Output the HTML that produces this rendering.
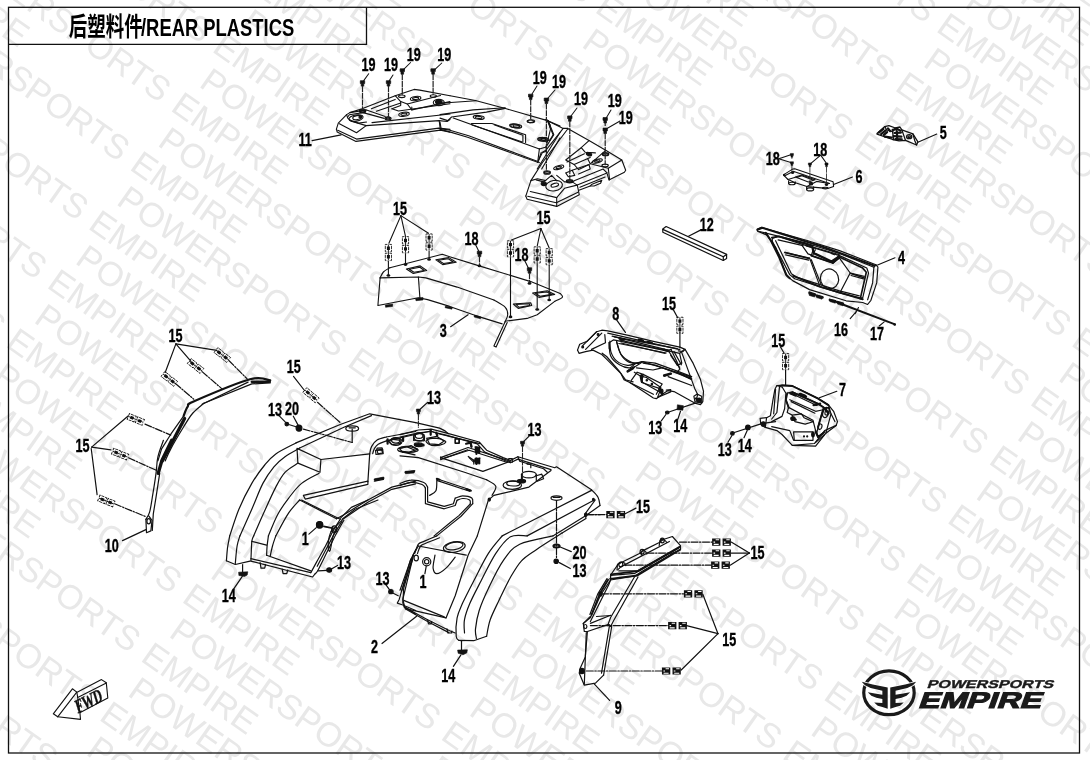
<!DOCTYPE html>
<html><head><meta charset="utf-8"><title>后塑料件/REAR PLASTICS</title>
<style>
html,body{margin:0;padding:0;background:#fff;}
body{width:1090px;height:760px;overflow:hidden;position:relative;font-family:"Liberation Sans","Noto Sans CJK SC",sans-serif;}
svg{position:absolute;left:0;top:0;display:block;filter:grayscale(1)}
.wm text{font-family:"Liberation Sans",sans-serif;font-size:34.3px;fill:#e8e8e8;}
.ln{fill:none;stroke:#111;stroke-linejoin:round;stroke-linecap:round}
.lb{font-family:"Liberation Sans",sans-serif;font-weight:bold;font-size:17.5px;fill:#000;stroke:#000;stroke-width:0.35px}
</style></head><body>
<svg width="1090" height="760" viewBox="0 0 1090 760">
<rect width="1090" height="760" fill="#fff"/>
<g class="wm">
<text transform="translate(1087.2,-170.3) rotate(35.0)">POWERSPORTS</text>
<text transform="translate(1046.0,-111.4) rotate(35.0)">POWERSPORTS</text>
<text transform="translate(1017.7,-87.2) rotate(35.0)">EMPIRE</text>
<text transform="translate(1004.7,-52.4) rotate(35.0)">POWERSPORTS</text>
<text transform="translate(745.8,-189.7) rotate(35.0)">POWERSPORTS</text>
<text transform="translate(976.4,-28.2) rotate(35.0)">EMPIRE</text>
<text transform="translate(963.4,6.6) rotate(35.0)">POWERSPORTS</text>
<text transform="translate(704.5,-130.7) rotate(35.0)">POWERSPORTS</text>
<text transform="translate(935.1,30.7) rotate(35.0)">EMPIRE</text>
<text transform="translate(676.3,-106.5) rotate(35.0)">EMPIRE</text>
<text transform="translate(922.1,65.6) rotate(35.0)">POWERSPORTS</text>
<text transform="translate(663.2,-71.7) rotate(35.0)">POWERSPORTS</text>
<text transform="translate(893.8,89.7) rotate(35.0)">EMPIRE</text>
<text transform="translate(635.0,-47.6) rotate(35.0)">EMPIRE</text>
<text transform="translate(880.8,124.5) rotate(35.0)">POWERSPORTS</text>
<text transform="translate(1111.3,286.0) rotate(35.0)">EMPIRE</text>
<text transform="translate(621.9,-12.7) rotate(35.0)">POWERSPORTS</text>
<text transform="translate(852.5,148.7) rotate(35.0)">EMPIRE</text>
<text transform="translate(1098.3,320.8) rotate(35.0)">POWERSPORTS</text>
<text transform="translate(363.1,-150.0) rotate(35.0)">POWERSPORTS</text>
<text transform="translate(593.7,11.4) rotate(35.0)">EMPIRE</text>
<text transform="translate(839.5,183.5) rotate(35.0)">POWERSPORTS</text>
<text transform="translate(1070.0,345.0) rotate(35.0)">EMPIRE</text>
<text transform="translate(580.6,46.2) rotate(35.0)">POWERSPORTS</text>
<text transform="translate(811.2,207.7) rotate(35.0)">EMPIRE</text>
<text transform="translate(1057.0,379.8) rotate(35.0)">POWERSPORTS</text>
<text transform="translate(321.8,-91.0) rotate(35.0)">POWERSPORTS</text>
<text transform="translate(552.4,70.4) rotate(35.0)">EMPIRE</text>
<text transform="translate(798.2,242.5) rotate(35.0)">POWERSPORTS</text>
<text transform="translate(1028.7,403.9) rotate(35.0)">EMPIRE</text>
<text transform="translate(293.5,-66.9) rotate(35.0)">EMPIRE</text>
<text transform="translate(539.3,105.2) rotate(35.0)">POWERSPORTS</text>
<text transform="translate(769.9,266.7) rotate(35.0)">EMPIRE</text>
<text transform="translate(1015.7,438.8) rotate(35.0)">POWERSPORTS</text>
<text transform="translate(280.5,-32.1) rotate(35.0)">POWERSPORTS</text>
<text transform="translate(511.1,129.4) rotate(35.0)">EMPIRE</text>
<text transform="translate(756.9,301.5) rotate(35.0)">POWERSPORTS</text>
<text transform="translate(987.4,462.9) rotate(35.0)">EMPIRE</text>
<text transform="translate(21.7,-169.4) rotate(35.0)">POWERSPORTS</text>
<text transform="translate(252.2,-7.9) rotate(35.0)">EMPIRE</text>
<text transform="translate(498.0,164.2) rotate(35.0)">POWERSPORTS</text>
<text transform="translate(728.6,325.6) rotate(35.0)">EMPIRE</text>
<text transform="translate(974.4,497.7) rotate(35.0)">POWERSPORTS</text>
<text transform="translate(239.2,26.9) rotate(35.0)">POWERSPORTS</text>
<text transform="translate(469.8,188.4) rotate(35.0)">EMPIRE</text>
<text transform="translate(715.6,360.5) rotate(35.0)">POWERSPORTS</text>
<text transform="translate(946.1,521.9) rotate(35.0)">EMPIRE</text>
<text transform="translate(-19.6,-110.4) rotate(35.0)">POWERSPORTS</text>
<text transform="translate(210.9,51.1) rotate(35.0)">EMPIRE</text>
<text transform="translate(456.7,223.2) rotate(35.0)">POWERSPORTS</text>
<text transform="translate(687.3,384.6) rotate(35.0)">EMPIRE</text>
<text transform="translate(933.1,556.7) rotate(35.0)">POWERSPORTS</text>
<text transform="translate(-47.9,-86.2) rotate(35.0)">EMPIRE</text>
<text transform="translate(197.9,85.9) rotate(35.0)">POWERSPORTS</text>
<text transform="translate(428.5,247.3) rotate(35.0)">EMPIRE</text>
<text transform="translate(674.3,419.4) rotate(35.0)">POWERSPORTS</text>
<text transform="translate(904.8,580.9) rotate(35.0)">EMPIRE</text>
<text transform="translate(-60.9,-51.4) rotate(35.0)">POWERSPORTS</text>
<text transform="translate(169.6,110.0) rotate(35.0)">EMPIRE</text>
<text transform="translate(415.4,282.2) rotate(35.0)">POWERSPORTS</text>
<text transform="translate(646.0,443.6) rotate(35.0)">EMPIRE</text>
<text transform="translate(891.8,615.7) rotate(35.0)">POWERSPORTS</text>
<text transform="translate(1122.4,777.1) rotate(35.0)">EMPIRE</text>
<text transform="translate(-89.2,-27.2) rotate(35.0)">EMPIRE</text>
<text transform="translate(156.6,144.9) rotate(35.0)">POWERSPORTS</text>
<text transform="translate(387.2,306.3) rotate(35.0)">EMPIRE</text>
<text transform="translate(633.0,478.4) rotate(35.0)">POWERSPORTS</text>
<text transform="translate(863.5,639.9) rotate(35.0)">EMPIRE</text>
<text transform="translate(-102.2,7.6) rotate(35.0)">POWERSPORTS</text>
<text transform="translate(128.4,169.0) rotate(35.0)">EMPIRE</text>
<text transform="translate(374.1,341.1) rotate(35.0)">POWERSPORTS</text>
<text transform="translate(604.7,502.6) rotate(35.0)">EMPIRE</text>
<text transform="translate(850.5,674.7) rotate(35.0)">POWERSPORTS</text>
<text transform="translate(-130.5,31.7) rotate(35.0)">EMPIRE</text>
<text transform="translate(115.3,203.8) rotate(35.0)">POWERSPORTS</text>
<text transform="translate(345.9,365.3) rotate(35.0)">EMPIRE</text>
<text transform="translate(591.7,537.4) rotate(35.0)">POWERSPORTS</text>
<text transform="translate(822.2,698.8) rotate(35.0)">EMPIRE</text>
<text transform="translate(-143.5,66.6) rotate(35.0)">POWERSPORTS</text>
<text transform="translate(87.1,228.0) rotate(35.0)">EMPIRE</text>
<text transform="translate(332.9,400.1) rotate(35.0)">POWERSPORTS</text>
<text transform="translate(563.4,561.6) rotate(35.0)">EMPIRE</text>
<text transform="translate(809.2,733.7) rotate(35.0)">POWERSPORTS</text>
<text transform="translate(74.0,262.8) rotate(35.0)">POWERSPORTS</text>
<text transform="translate(304.6,424.3) rotate(35.0)">EMPIRE</text>
<text transform="translate(550.4,596.4) rotate(35.0)">POWERSPORTS</text>
<text transform="translate(780.9,757.8) rotate(35.0)">EMPIRE</text>
<text transform="translate(-184.8,125.5) rotate(35.0)">POWERSPORTS</text>
<text transform="translate(45.8,287.0) rotate(35.0)">EMPIRE</text>
<text transform="translate(291.6,459.1) rotate(35.0)">POWERSPORTS</text>
<text transform="translate(522.1,620.5) rotate(35.0)">EMPIRE</text>
<text transform="translate(767.9,792.6) rotate(35.0)">POWERSPORTS</text>
<text transform="translate(32.7,321.8) rotate(35.0)">POWERSPORTS</text>
<text transform="translate(263.3,483.2) rotate(35.0)">EMPIRE</text>
<text transform="translate(509.1,655.4) rotate(35.0)">POWERSPORTS</text>
<text transform="translate(-226.1,184.5) rotate(35.0)">POWERSPORTS</text>
<text transform="translate(4.5,346.0) rotate(35.0)">EMPIRE</text>
<text transform="translate(250.3,518.1) rotate(35.0)">POWERSPORTS</text>
<text transform="translate(480.8,679.5) rotate(35.0)">EMPIRE</text>
<text transform="translate(-8.6,380.8) rotate(35.0)">POWERSPORTS</text>
<text transform="translate(222.0,542.2) rotate(35.0)">EMPIRE</text>
<text transform="translate(467.8,714.3) rotate(35.0)">POWERSPORTS</text>
<text transform="translate(-36.8,404.9) rotate(35.0)">EMPIRE</text>
<text transform="translate(209.0,577.1) rotate(35.0)">POWERSPORTS</text>
<text transform="translate(439.5,738.5) rotate(35.0)">EMPIRE</text>
<text transform="translate(-49.9,439.8) rotate(35.0)">POWERSPORTS</text>
<text transform="translate(180.7,601.2) rotate(35.0)">EMPIRE</text>
<text transform="translate(426.5,773.3) rotate(35.0)">POWERSPORTS</text>
<text transform="translate(-78.1,463.9) rotate(35.0)">EMPIRE</text>
<text transform="translate(167.7,636.0) rotate(35.0)">POWERSPORTS</text>
<text transform="translate(398.2,797.5) rotate(35.0)">EMPIRE</text>
<text transform="translate(-91.2,498.7) rotate(35.0)">POWERSPORTS</text>
<text transform="translate(139.4,660.2) rotate(35.0)">EMPIRE</text>
<text transform="translate(-119.4,522.9) rotate(35.0)">EMPIRE</text>
<text transform="translate(126.4,695.0) rotate(35.0)">POWERSPORTS</text>
<text transform="translate(-132.5,557.7) rotate(35.0)">POWERSPORTS</text>
<text transform="translate(98.1,719.2) rotate(35.0)">EMPIRE</text>
<text transform="translate(85.1,754.0) rotate(35.0)">POWERSPORTS</text>
<text transform="translate(-173.8,616.7) rotate(35.0)">POWERSPORTS</text>
<text transform="translate(56.8,778.1) rotate(35.0)">EMPIRE</text>
<text transform="translate(-215.1,675.7) rotate(35.0)">POWERSPORTS</text>
<text transform="translate(-256.4,734.7) rotate(35.0)">POWERSPORTS</text>
</g>
<g id="frame" fill="none" stroke="#111" stroke-width="1.3">
<rect x="8.5" y="7.3" width="1071" height="745.7"/>
<path d="M8.5 44.3H366.5V7.3"/>
</g>
<g id="title" fill="#000">
<text transform="translate(68.8,36.4) scale(0.84,1.2)" font-family='"Liberation Sans","Noto Sans CJK SC",sans-serif' font-size="22" font-weight="bold">后塑料件</text>
<text transform="translate(141,36) scale(0.8,1)" font-family='"Liberation Sans",sans-serif' font-size="23" font-weight="bold">/REAR PLASTICS</text>
</g>
<g id="01a">
<path class="ln" stroke-width="1.1960000000000002" d="M229.7 535.9C231.3 531.4 235.3 517.9 238.9 509.2C242.6 500.4 247.5 490.8 251.8 483.4C256.1 476.0 260.7 469.9 264.7 465.0C268.7 460.1 270.6 457.6 275.8 453.9C281.0 450.2 292.7 444.7 296.0 442.9"/>
<path class="ln" stroke-width="1.1960000000000002" d="M296.0 442.9L340.2 424.5L369.7 413.8L415.7 422.6"/>
<path class="ln" stroke-width="1.1960000000000002" d="M239.9 535.9C241.9 531.4 248.0 517.9 251.8 509.2C255.7 500.4 259.2 490.5 262.9 483.4C266.6 476.3 270.2 471.3 273.9 466.8C277.6 462.4 280.7 459.8 285.0 456.7C289.3 453.6 297.3 449.5 299.7 448.0"/>
<path class="ln" stroke-width="1.1960000000000002" d="M299.7 448.0L343.9 427.2L371.5 415.6"/>
<path class="ln" stroke-width="1.1960000000000002" d="M253.7 535.9C255.2 532.4 259.2 522.8 262.9 514.7C266.6 506.6 272.1 494.1 275.8 487.1C279.5 480.0 281.3 476.3 285.0 472.3C288.7 468.4 295.7 464.7 297.9 463.1"/>
<path class="ln" stroke-width="1.1960000000000002" d="M297.0 448.4L320.9 459.5L320.0 472.3L297.9 463.1Z"/>
<path class="ln" stroke-width="1.1960000000000002" d="M320.9 459.5L369.7 453.9"/>
<path class="ln" stroke-width="1.1960000000000002" d="M319.1 473.3C316.1 475.0 306.6 479.3 301.6 483.4C296.5 487.5 292.7 492.9 288.7 498.1C284.7 503.3 281.0 508.4 277.6 514.7C274.2 521.0 269.9 532.4 268.4 535.9"/>
<path class="ln" stroke-width="1.1960000000000002" d="M303.4 495.4L367.9 481.2L367.9 484.3L305.2 499.1Z"/>
<path class="ln" stroke-width="1.1960000000000002" d="M369.7 453.9L367.9 481.6"/>
<path class="ln" stroke-width="1.1960000000000002" d="M369.7 453.9C370.0 452.7 370.3 448.9 371.5 446.6C372.8 444.3 374.6 441.7 377.1 440.1C379.5 438.5 384.7 437.5 386.3 437.0"/>
<path class="ln" stroke-width="1.1960000000000002" d="M386.3 437.0L415.7 431.5"/>
<path class="ln" stroke-width="1.1960000000000002" d="M299.7 500.0L336.5 518.8"/>
<path class="ln" stroke-width="1.1960000000000002" d="M299.7 500.0C297.9 502.1 292.7 506.9 288.7 512.9C284.7 518.8 277.9 532.0 275.8 535.9"/>
<path class="ln" stroke-width="1.1960000000000002" d="M336.5 518.8L343.9 514.7L367.9 500.0L391.8 487.1L415.7 481.2"/>
<path class="ln" stroke-width="1.1960000000000002" d="M331.0 531.3L343.9 518.4L367.9 502.2L391.8 489.3L415.7 483.8"/>
<ellipse cx="352.2" cy="428.5" rx="6.4" ry="2.6" transform="rotate(0 352.2 428.5)" fill="none" stroke="#111" stroke-width="1.1960000000000002"/>
<path class="ln" stroke-width="1.1960000000000002" d="M349.1 427.8L355.3 427.8"/>
<path class="ln" stroke-width="1.1960000000000002" d="M374.3 479.7L383.5 477.9"/>
<path class="ln" stroke-width="1.1960000000000002" d="M374.3 481.2L383.5 479.3"/>
<path class="ln" stroke-width="1.1960000000000002" d="M405.6 472.3L414.8 470.9"/>
<path class="ln" stroke-width="1.1960000000000002" stroke-dasharray="7 1.5 1.5 1.5" stroke-linecap="butt" d="M303.4 429.1L352.2 442.5"/>
<path class="ln" stroke-width="1.1960000000000002" d="M352.2 442.5L352.2 429.1"/>
<ellipse cx="286.8" cy="424.1" rx="1.8" ry="1.7" transform="rotate(0 286.8 424.1)" fill="#111" stroke="#111" stroke-width="1.1960000000000002"/>
<path class="ln" stroke-width="1.1960000000000002" d="M288.7 424.5L296.0 426.7"/>
<ellipse cx="299.0" cy="428.1" rx="2.9" ry="3.1" transform="rotate(0 299.0 428.1)" fill="#111" stroke="#111" stroke-width="1.1960000000000002"/>
<path class="ln" stroke-width="1.1960000000000002" d="M279.5 416.2L285.9 422.6"/>
<path class="ln" stroke-width="1.1960000000000002" d="M293.3 416.2L298.2 425.4"/>
<text class="lb" text-anchor="middle" transform="translate(274.9,416.0) scale(0.72,1)">13</text>
<text class="lb" text-anchor="middle" transform="translate(292.0,415.1) scale(0.72,1)">20</text>
<ellipse cx="319.6" cy="524.8" rx="3.1" ry="3.1" transform="rotate(0 319.6 524.8)" fill="#111" stroke="#111" stroke-width="1.1960000000000002"/>
<path class="ln" stroke-width="1.1960000000000002" d="M323.7 526.1L332.9 528.0"/>
<g transform="translate(311.0,395.2) rotate(-50.0) scale(0.88,0.95)"><path d="M-1.2 -8.5H-3.5V-0.8H-1.2M1.2 -8.5H3.5V-0.8H1.2M-1.2 0.8H-3.5V8.5H-1.2M1.2 0.8H3.5V8.5H1.2" fill="none" stroke="#111" stroke-width="0.95" stroke-dasharray="3.2 0.8"/><path d="M-1.7 -6.2h3.4v3.6h-3.4zM-1.7 2.6h3.4v3.6h-3.4z" fill="#111"/><path d="M0 -8.5V8.5" stroke="#111" stroke-width="1"/></g>
<path class="ln" stroke-width="1.1960000000000002" stroke-dasharray="7 1.5 1.5 1.5" stroke-linecap="butt" d="M317.5 402.3L340.2 422.6"/>
<path class="ln" stroke-width="1.1960000000000002" d="M293.5 376.4L304.5 390.5"/>
<text class="lb" text-anchor="middle" transform="translate(293.8,372.5) scale(0.72,1)">15</text>
<path class="ln" stroke-width="1.1960000000000002" d="M377.1 450.2L381.7 449.3L382.6 453.0L378.0 453.9L377.1 450.2"/>
<path class="ln" stroke-width="1.1960000000000002" d="M388.1 441.0L391.8 439.2L399.2 440.1L401.0 443.3L391.8 444.7L388.1 441.0"/>
<path class="ln" stroke-width="1.1960000000000002" d="M399.2 448.4L406.5 446.6L415.0 450.2"/>
<path class="ln" stroke-width="1.1960000000000002" d="M399.2 448.4L402.8 452.1L415.0 454.9"/>
</g>
<g id="01b">
<path class="ln" stroke-width="1.1960000000000002" d="M415.7 422.6L439.6 428.1L445.1 430.9L448.3 433.7"/>
<path class="ln" stroke-width="1.1960000000000002" d="M400.0 434.6L418.4 430.0L431.3 429.1L446.0 432.8L479.2 442.0L486.6 450.2L503.1 457.6L510.5 460.4L517.9 456.7L554.7 467.7L556.5 466.8L591.5 489.8"/>
<path class="ln" stroke-width="1.1960000000000002" d="M591.5 489.8C592.6 491.1 596.6 494.6 598.0 497.2C599.4 499.8 599.7 504.1 600.0 505.5"/>
<path class="ln" stroke-width="1.1960000000000002" d="M400.0 437.0L418.4 432.8L431.3 431.5L446.0 435.1L477.3 443.8L484.7 452.1L503.1 459.8L510.5 462.8L517.9 459.1L551.0 469.6"/>
<path class="ln" stroke-width="1.1960000000000002" d="M591.5 490.4L502.2 535.9"/>
<path class="ln" stroke-width="1.1960000000000002" d="M594.3 500.0L527.1 535.9"/>
<path class="ln" stroke-width="1.1960000000000002" d="M586.0 515.6L552.9 535.9"/>
<path class="ln" stroke-width="1.1960000000000002" d="M600.0 505.5L586.0 515.6"/>
<path class="ln" stroke-width="1.1960000000000002" d="M551.0 470.5L528.9 487.1L493.9 495.4L488.4 500.0L477.3 535.9"/>
<path class="ln" stroke-width="1.1960000000000002" d="M400.0 455.8L418.4 457.6L464.5 472.3L486.6 479.7"/>
<path class="ln" stroke-width="1.1960000000000002" d="M486.6 479.7C488.1 480.8 494.8 483.6 495.8 486.2C496.7 488.8 492.7 493.8 492.1 495.4"/>
<path class="ln" stroke-width="1.1960000000000002" d="M440.5 457.6L468.1 447.5L510.5 461.3L482.9 471.4Z"/>
<path class="ln" stroke-width="1.1960000000000002" d="M443.3 458.5L469.1 450.2L506.8 462.2"/>
<path class="ln" stroke-width="1.1960000000000002" d="M426.7 438.3L436.8 436.4L444.2 441.0L438.7 444.7L429.5 443.8Z"/>
<path class="ln" stroke-width="1.1960000000000002" d="M400.0 448.4L411.0 445.6L417.5 449.3L409.2 452.1L400.0 451.2"/>
<ellipse cx="512.3" cy="485.2" rx="9.2" ry="4.1" transform="rotate(0 512.3 485.2)" fill="none" stroke="#111" stroke-width="1.1960000000000002"/>
<ellipse cx="513.3" cy="483.4" rx="6.6" ry="2.6" transform="rotate(0 513.3 483.4)" fill="none" stroke="#111" stroke-width="1.1960000000000002"/>
<ellipse cx="528.9" cy="474.6" rx="7.4" ry="3.3" transform="rotate(0 528.9 474.6)" fill="none" stroke="#111" stroke-width="1.1960000000000002"/>
<path class="ln" stroke-width="1.1960000000000002" d="M521.5 474.6L521.5 481.6"/>
<path class="ln" stroke-width="1.1960000000000002" d="M536.3 474.6L536.3 480.6"/>
<path class="ln" stroke-width="1.1960000000000002" d="M400.0 483.4C401.8 482.8 407.1 480.2 411.0 480.1C415.0 479.9 421.2 481.3 423.9 482.5C426.7 483.6 427.0 486.3 427.6 487.1"/>
<path class="ln" stroke-width="1.1960000000000002" d="M427.6 487.1L427.6 501.8L444.2 506.4L453.4 503.7L455.2 498.1"/>
<path class="ln" stroke-width="1.1960000000000002" d="M455.2 498.1C456.5 497.8 459.9 495.9 462.6 495.9C465.4 495.9 470.1 496.8 471.8 498.1C473.5 499.4 472.6 502.7 472.7 503.7"/>
<path class="ln" stroke-width="1.1960000000000002" d="M472.7 503.7L460.8 516.5L451.6 523.9L436.8 535.9"/>
<path class="ln" stroke-width="1.1960000000000002" d="M400.0 485.6C401.8 485.1 407.4 482.5 411.0 482.3C414.7 482.1 419.7 483.6 422.1 484.5C424.5 485.5 424.9 487.4 425.4 488.0"/>
<path class="ln" stroke-width="1.1960000000000002" d="M425.4 488.0L425.4 503.7L444.2 508.8L455.2 505.5L457.1 500.3"/>
<path class="ln" stroke-width="1.1960000000000002" d="M457.1 500.3C458.0 500.0 460.5 498.6 462.6 498.5C464.7 498.4 468.3 499.1 469.6 500.0C470.9 500.9 470.2 503.3 470.3 504.0"/>
<path class="ln" stroke-width="1.1960000000000002" d="M470.3 504.0L458.9 515.6L449.7 523.0L434.1 535.9"/>
<path class="ln" stroke-width="1.1960000000000002" d="M436.8 478.8L470.0 489.8"/>
<path class="ln" stroke-width="1.1960000000000002" d="M437.4 480.6L469.6 491.3"/>
<path class="ln" stroke-width="1.1960000000000002" d="M436.8 479.7C436.7 481.6 437.1 488.2 435.9 490.8C434.7 493.4 430.5 494.6 429.5 495.4"/>
<path class="ln" stroke-width="2.0240000000000005" d="M405.5 472.3L413.8 471.4"/>
<path class="ln" stroke-width="2.0240000000000005" d="M436.8 478.8L439.6 479.7"/>
<path class="ln" stroke-width="2.0240000000000005" d="M466.3 489.3L470.9 490.8"/>
<path class="ln" stroke-width="2.0240000000000005" d="M476.4 447.5L476.4 453.9"/>
<path class="ln" stroke-width="2.0240000000000005" d="M476.4 458.5L476.4 464.1"/>
<path class="ln" stroke-width="1.1960000000000002" d="M413.8 434.6L413.8 440.1L423.9 441.0L423.9 434.6"/>
<path class="ln" stroke-width="1.1960000000000002" d="M455.2 439.2L458.9 439.2L458.9 443.3L455.2 443.3L455.2 439.2"/>
<path class="ln" stroke-width="1.1960000000000002" d="M467.2 443.3L470.9 443.3L470.9 446.6"/>
<path class="ln" stroke-width="1.1960000000000002" d="M508.7 458.5L512.3 458.5L512.3 462.2"/>
<path class="ln" stroke-width="1.1960000000000002" d="M527.1 464.1L530.8 464.1L530.8 467.7"/>
<path class="ln" stroke-width="1.1960000000000002" d="M469.1 457.6L473.7 462.2L476.4 458.5"/>
<path class="ln" stroke-width="1.1960000000000002" d="M517.9 456.7L519.7 461.3L543.6 468.7L547.3 472.3"/>
<path class="ln" stroke-width="1.1960000000000002" d="M535.4 476.0L541.8 474.2L543.6 478.8L537.2 481.2"/>
<path transform="translate(418.4,410.7) scale(0.9)" d="M-2.2 -1.8h4.4v2.8h-0.9v2.6h-2.6v-2.6h-0.9z" fill="#111" stroke="#111" stroke-width="0.7" stroke-linejoin="round"/>
<path d="M418.4 413.9V428.1" stroke="#222" stroke-width="1.08" stroke-dasharray="6 0.7" fill="none"/>
<path transform="translate(522.5,442.9) scale(0.9)" d="M-2.2 -1.8h4.4v2.8h-0.9v2.6h-2.6v-2.6h-0.9z" fill="#111" stroke="#111" stroke-width="0.7" stroke-linejoin="round"/>
<path d="M522.5 446.1V481.2" stroke="#222" stroke-width="1.08" stroke-dasharray="6 0.7" fill="none"/>
<ellipse cx="418.4" cy="444.7" rx="4.1" ry="1.8" transform="rotate(0 418.4 444.7)" fill="#111" stroke="#111" stroke-width="1.1960000000000002"/>
<ellipse cx="521.5" cy="481.2" rx="4.1" ry="1.8" transform="rotate(0 521.5 481.2)" fill="#111" stroke="#111" stroke-width="1.1960000000000002"/>
<ellipse cx="489.3" cy="499.6" rx="1.1" ry="1.5" transform="rotate(0 489.3 499.6)" fill="#111" stroke="#111" stroke-width="1.1960000000000002"/>
<ellipse cx="593.4" cy="499.6" rx="0.9" ry="1.3" transform="rotate(0 593.4 499.6)" fill="#111" stroke="#111" stroke-width="1.1960000000000002"/>
<ellipse cx="585.6" cy="515.1" rx="0.9" ry="1.3" transform="rotate(0 585.6 515.1)" fill="#111" stroke="#111" stroke-width="1.1960000000000002"/>
<path class="ln" stroke-width="1.1960000000000002" d="M427.6 402.4L420.6 408.8"/>
<path class="ln" stroke-width="1.1960000000000002" d="M528.9 436.4L523.8 441.4"/>
<text class="lb" text-anchor="middle" transform="translate(434.1,403.5) scale(0.72,1)">13</text>
<text class="lb" text-anchor="middle" transform="translate(534.4,436.3) scale(0.72,1)">13</text>
<ellipse cx="556.5" cy="498.1" rx="5.5" ry="2.2" transform="rotate(0 556.5 498.1)" fill="none" stroke="#111" stroke-width="1.1960000000000002"/>
<path class="ln" stroke-width="1.1960000000000002" d="M553.2 497.4L559.9 497.4"/>
<path class="ln" stroke-width="1.1960000000000002" stroke-dasharray="7 1.5 1.5 1.5" stroke-linecap="butt" d="M556.5 500.9L556.5 535.9"/>
<path class="ln" stroke-width="1.1960000000000002" stroke-dasharray="7 1.5 1.5 1.5" stroke-linecap="butt" d="M586.9 514.7L600.0 514.7"/>
</g>
<g id="01c">
<path class="ln" stroke-width="1.1960000000000002" d="M229.7 535.9C229.4 537.9 228.1 543.7 227.5 547.9C227.0 552.0 226.6 558.6 226.4 560.8"/>
<path class="ln" stroke-width="1.1960000000000002" d="M226.4 560.8L235.3 564.5L250.0 561.1"/>
<path class="ln" stroke-width="1.1960000000000002" d="M239.9 535.9C239.4 537.6 237.9 541.4 237.1 546.0C236.3 550.6 235.6 560.6 235.3 563.5"/>
<path class="ln" stroke-width="1.1960000000000002" d="M253.7 535.9C253.4 536.8 252.3 537.3 251.8 541.4C251.4 545.6 251.1 557.6 250.9 560.8"/>
<path class="ln" stroke-width="1.1960000000000002" d="M251.8 541.4L266.6 545.1"/>
<path class="ln" stroke-width="1.1960000000000002" d="M268.4 535.9C268.2 537.6 267.4 542.8 267.1 546.0C266.8 549.3 266.7 553.7 266.6 555.2"/>
<path class="ln" stroke-width="1.1960000000000002" d="M275.8 535.9C275.2 537.6 273.4 542.7 272.5 546.0C271.5 549.4 270.6 554.5 270.2 556.2"/>
<path class="ln" stroke-width="1.1960000000000002" d="M250.9 558.6L310.8 572.7"/>
<path class="ln" stroke-width="1.1960000000000002" d="M250.9 561.1L312.6 577.0L315.4 573.3"/>
<path class="ln" stroke-width="1.1960000000000002" d="M266.6 555.2L310.8 570.9"/>
<path class="ln" stroke-width="1.1960000000000002" d="M301.6 500.0L340.2 519.3"/>
<path class="ln" stroke-width="1.1960000000000002" d="M340.2 519.3C339.0 521.3 335.3 526.9 332.9 531.3C330.4 535.8 328.3 540.8 325.5 546.0C322.7 551.3 318.7 558.2 316.3 562.6C313.8 567.1 311.7 571.1 310.8 572.7"/>
<path class="ln" stroke-width="1.1960000000000002" d="M343.9 520.3C342.5 522.7 338.4 529.8 335.6 535.0C332.9 540.2 330.3 545.7 327.3 551.6C324.4 557.4 320.1 566.3 318.1 570.0C316.1 573.7 315.8 573.1 315.4 573.7"/>
<path class="ln" stroke-width="1.1960000000000002" d="M342.1 521.2C340.8 523.2 337.3 528.5 334.7 533.1C332.1 537.8 329.3 543.3 326.4 548.8C323.5 554.3 318.7 563.4 317.2 566.3"/>
<path class="ln" stroke-width="1.1960000000000002" d="M378.0 500.0L355.0 509.2L342.1 519.3"/>
<path class="ln" stroke-width="1.1960000000000002" d="M367.9 500.0L351.3 507.4L340.2 518.4"/>
<path class="ln" stroke-width="1.1960000000000002" d="M260.1 562.6L261.0 568.1L264.7 568.1L265.6 564.5"/>
<path class="ln" stroke-width="1.1960000000000002" d="M282.2 569.1L283.1 573.7L286.8 573.7L287.7 570.0"/>
<path class="ln" stroke-width="1.1960000000000002" d="M332.9 527.6C332.2 529.2 329.9 533.5 329.2 536.8C328.4 540.2 328.1 545.6 328.3 547.9C328.4 550.2 329.3 552.5 330.1 550.6C330.9 548.8 331.8 540.7 332.9 536.8C333.9 533.0 335.9 529.2 336.5 527.6"/>
<path d="M238.6 572.2L247.8 571.8L247.2 575.1L244.5 576.4L238.9 575.5Z" fill="#111" stroke="#111" stroke-width="0.5980000000000001" stroke-linejoin="round"/>
<path class="ln" stroke-width="1.1960000000000002" d="M242.6 564.5L242.6 572.2"/>
<path class="ln" stroke-width="1.1960000000000002" d="M233.4 589.3L242.3 576.4"/>
<text class="lb" text-anchor="middle" transform="translate(228.8,602.0) scale(0.72,1)">14</text>
<ellipse cx="319.6" cy="524.9" rx="3.1" ry="3.1" transform="rotate(0 319.6 524.9)" fill="#111" stroke="#111" stroke-width="1.1960000000000002"/>
<path class="ln" stroke-width="1.1960000000000002" d="M323.7 526.7L332.9 528.5"/>
<ellipse cx="334.3" cy="529.1" rx="2.6" ry="3.3" transform="rotate(0 334.3 529.1)" fill="none" stroke="#111" stroke-width="1.1960000000000002"/>
<path class="ln" stroke-width="1.1960000000000002" d="M308.9 534.1L316.3 527.6"/>
<text class="lb" text-anchor="middle" transform="translate(305.2,544.9) scale(0.72,1)">1</text>
<ellipse cx="329.2" cy="570.0" rx="2.4" ry="2.2" transform="rotate(0 329.2 570.0)" fill="#111" stroke="#111" stroke-width="1.1960000000000002"/>
<path class="ln" stroke-width="1.1960000000000002" d="M318.1 570.9L327.3 570.3"/>
<path class="ln" stroke-width="1.1960000000000002" d="M337.5 565.4L331.4 569.1"/>
<text class="lb" text-anchor="middle" transform="translate(343.9,568.9) scale(0.72,1)">13</text>
<ellipse cx="390.9" cy="591.7" rx="2.2" ry="2.0" transform="rotate(0 390.9 591.7)" fill="#111" stroke="#111" stroke-width="1.1960000000000002"/>
<path class="ln" stroke-width="1.1960000000000002" d="M392.7 593.0L398.2 595.8"/>
<path class="ln" stroke-width="1.1960000000000002" d="M385.3 583.8L389.6 589.9"/>
<text class="lb" text-anchor="middle" transform="translate(382.6,584.5) scale(0.72,1)">13</text>
<path class="ln" stroke-width="1.1960000000000002" d="M415.7 549.7L410.2 560.8L399.2 599.4L397.3 603.1L402.8 605.0L415.7 610.5"/>
<path class="ln" stroke-width="1.1960000000000002" d="M413.5 555.2L402.8 599.4L404.7 606.8L415.7 614.2"/>
</g>
<g id="01d">
<path class="ln" stroke-width="1.1960000000000002" d="M502.2 535.9C499.9 538.8 493.2 545.9 488.4 553.4C483.6 560.9 478.0 572.7 473.7 581.0C469.4 589.3 465.4 597.0 462.6 603.1C459.9 609.3 458.2 612.3 457.1 617.9C456.0 623.4 455.9 632.5 456.2 636.3C456.5 640.0 458.5 639.7 458.9 640.3"/>
<path class="ln" stroke-width="1.1960000000000002" d="M527.1 535.9C524.3 536.1 515.7 533.9 510.5 536.8C505.3 539.7 500.7 546.0 495.8 553.4C490.9 560.8 485.3 572.7 481.0 581.0C476.7 589.3 472.7 596.7 470.0 603.1C467.2 609.6 465.4 614.7 464.5 619.7C463.5 624.7 464.5 630.8 464.5 633.0"/>
<path class="ln" stroke-width="1.1960000000000002" d="M552.9 535.9C547.3 537.3 528.0 540.1 519.7 544.2C511.4 548.3 508.3 553.4 503.1 560.8C497.9 568.1 492.4 580.1 488.4 588.4C484.4 596.7 481.3 603.7 479.2 610.5C477.0 617.2 476.0 624.2 475.5 628.9C475.0 633.6 476.3 636.9 476.4 638.5"/>
<path class="ln" stroke-width="1.1960000000000002" d="M595.2 500.0L585.1 513.8L586.0 518.4L562.1 533.1"/>
<path class="ln" stroke-width="1.1960000000000002" d="M562.1 533.1C557.8 535.9 543.0 545.1 536.3 549.7C529.5 554.3 525.8 556.2 521.5 560.8C517.2 565.4 514.2 570.9 510.5 577.3C506.8 583.8 502.8 592.4 499.4 599.4C496.1 606.5 492.4 613.6 490.2 619.7C488.1 625.8 487.2 633.5 486.6 636.3"/>
<path class="ln" stroke-width="1.1960000000000002" d="M486.6 636.3L473.7 640.7L458.9 640.3"/>
<path class="ln" stroke-width="1.1960000000000002" d="M477.3 535.9L468.1 555.2L455.2 595.8L446.0 617.9"/>
<path class="ln" stroke-width="1.1960000000000002" d="M418.4 546.0L412.9 555.2L403.7 588.4L402.8 603.1L405.5 608.7L446.0 617.9"/>
<path class="ln" stroke-width="1.1960000000000002" d="M418.4 546.0L466.3 555.2"/>
<path class="ln" stroke-width="1.1960000000000002" d="M403.7 600.4L444.2 616.9"/>
<path class="ln" stroke-width="1.1960000000000002" d="M403.7 606.8L427.6 619.7L449.7 630.8L455.2 633.0"/>
<path class="ln" stroke-width="1.1960000000000002" d="M405.2 608.7L427.6 621.5L448.8 632.6"/>
<path class="ln" stroke-width="1.1960000000000002" d="M400.0 590.2L411.0 558.9"/>
<path class="ln" stroke-width="1.1960000000000002" d="M401.5 591.2L412.5 559.9"/>
<path class="ln" stroke-width="1.1960000000000002" d="M436.8 535.9C434.7 536.8 427.0 540.1 423.9 541.4C420.9 542.8 420.0 542.2 418.4 544.2C416.9 546.2 415.3 551.9 414.7 553.4"/>
<path class="ln" stroke-width="1.1960000000000002" d="M439.6 537.8C437.3 538.7 428.9 541.9 425.8 543.3C422.6 544.7 422.0 544.4 420.6 546.0C419.2 547.7 418.0 552.2 417.5 553.4"/>
<ellipse cx="454.3" cy="547.0" rx="11.0" ry="5.2" transform="rotate(-10.0 454.3 547.0)" fill="none" stroke="#111" stroke-width="1.1960000000000002"/>
<ellipse cx="454.3" cy="546.0" rx="8.8" ry="3.7" transform="rotate(-10.0 454.3 546.0)" fill="none" stroke="#111" stroke-width="1.1960000000000002"/>
<path class="ln" stroke-width="1.1960000000000002" d="M435.0 555.2C434.7 557.4 432.8 565.1 433.1 568.1C433.5 571.2 434.7 573.7 436.8 573.7C439.0 573.7 443.0 570.9 446.0 568.1C449.1 565.4 453.7 558.9 455.2 557.1"/>
<ellipse cx="426.7" cy="561.7" rx="4.1" ry="4.1" transform="rotate(0 426.7 561.7)" fill="none" stroke="#111" stroke-width="1.1960000000000002"/>
<ellipse cx="426.7" cy="561.7" rx="2.2" ry="2.2" transform="rotate(0 426.7 561.7)" fill="none" stroke="#111" stroke-width="1.1960000000000002"/>
<ellipse cx="416.2" cy="558.0" rx="2.2" ry="2.9" transform="rotate(0 416.2 558.0)" fill="none" stroke="#111" stroke-width="1.1960000000000002"/>
<path class="ln" stroke-width="1.1960000000000002" d="M424.9 573.7L426.2 566.3"/>
<text class="lb" text-anchor="middle" transform="translate(423.0,588.2) scale(0.72,1)">1</text>
<path class="ln" stroke-width="1.1960000000000002" d="M427.6 619.7L428.5 623.8L431.3 623.8L431.7 621.5"/>
<path class="ln" stroke-width="1.1960000000000002" d="M447.0 628.9L447.9 633.0L451.6 633.0L451.9 631.1"/>
<ellipse cx="556.5" cy="546.0" rx="3.1" ry="1.5" transform="rotate(0 556.5 546.0)" fill="none" stroke="#111" stroke-width="2.0240000000000005"/>
<ellipse cx="556.2" cy="561.3" rx="2.2" ry="2.2" transform="rotate(0 556.2 561.3)" fill="#111" stroke="#111" stroke-width="1.1960000000000002"/>
<path class="ln" stroke-width="1.1960000000000002" stroke-dasharray="7 1.5 1.5 1.5" stroke-linecap="butt" d="M556.5 535.9L556.5 558.9"/>
<path class="ln" stroke-width="1.1960000000000002" d="M560.2 547.0L571.3 551.6"/>
<path class="ln" stroke-width="1.1960000000000002" d="M559.3 562.6L570.3 568.5"/>
<text class="lb" text-anchor="middle" transform="translate(579.6,559.3) scale(0.72,1)">20</text>
<text class="lb" text-anchor="middle" transform="translate(579.6,577.2) scale(0.72,1)">13</text>
</g>
<g id="01e">
<path class="ln" stroke-width="1.1960000000000002" d="M372.7 453.6C373.0 452.8 373.4 450.2 374.4 448.6C375.3 447.1 376.2 445.5 378.2 444.2C380.3 442.9 385.1 441.5 386.5 440.9"/>
<path class="ln" stroke-width="1.1960000000000002" d="M386.5 440.9L430.7 431.0L437.3 433.5L480.0 443.7"/>
<ellipse cx="395.9" cy="441.5" rx="6.1" ry="3.9" transform="rotate(0 395.9 441.5)" fill="none" stroke="#111" stroke-width="1.1960000000000002"/>
<ellipse cx="395.9" cy="440.6" rx="4.4" ry="2.4" transform="rotate(0 395.9 440.6)" fill="none" stroke="#111" stroke-width="1.1960000000000002"/>
<ellipse cx="419.1" cy="437.0" rx="5.3" ry="4.2" transform="rotate(0 419.1 437.0)" fill="none" stroke="#111" stroke-width="1.1960000000000002"/>
<ellipse cx="419.1" cy="435.9" rx="3.8" ry="2.4" transform="rotate(0 419.1 435.9)" fill="none" stroke="#111" stroke-width="1.1960000000000002"/>
<path class="ln" stroke-width="1.1960000000000002" d="M413.8 437.0L413.8 440.4"/>
<path class="ln" stroke-width="1.1960000000000002" d="M424.4 437.0L424.4 440.4"/>
<path class="ln" stroke-width="1.1960000000000002" d="M398.1 448.6C399.2 447.8 403.4 446.4 406.4 446.4C409.4 446.4 414.5 447.9 416.4 448.6C418.2 449.4 418.7 450.2 417.5 450.9C416.2 451.5 411.6 452.4 408.6 452.5C405.7 452.6 401.5 452.1 399.8 451.4C398.0 450.8 397.0 449.5 398.1 448.6Z"/>
<path class="ln" stroke-width="1.1960000000000002" d="M426.3 440.4C427.4 439.4 432.0 438.1 435.1 438.1C438.3 438.2 443.6 440.0 445.1 440.9C446.6 441.8 445.6 442.9 444.0 443.7C442.3 444.5 437.7 445.6 435.1 445.7C432.6 445.7 430.0 444.8 428.5 443.9C427.0 443.0 425.2 441.3 426.3 440.4Z"/>
<path d="M417.5 444.6L424.1 443.9L424.3 446.1L417.7 447.0Z" fill="#111" stroke="#111" stroke-width="0.5980000000000001" stroke-linejoin="round"/>
<path d="M405.3 471.3L414.7 470.7L414.1 473.0L405.5 473.7Z" fill="#111" stroke="#111" stroke-width="0.5980000000000001" stroke-linejoin="round"/>
<path d="M374.4 478.8L383.8 477.0L384.1 478.8L374.9 481.0Z" fill="#111" stroke="#111" stroke-width="0.5980000000000001" stroke-linejoin="round"/>
<path class="ln" stroke-width="1.1960000000000002" d="M375.5 450.3L382.7 449.8L383.2 453.6L376.0 454.5Z"/>
<path class="ln" stroke-width="1.1960000000000002" d="M376.6 449.8L377.1 448.1L382.1 447.9L382.7 449.8"/>
<path class="ln" stroke-width="1.1960000000000002" d="M455.2 438.7L459.4 438.7L459.4 443.1L455.2 443.1Z"/>
<path class="ln" stroke-width="2.208" d="M387.6 439.3L387.6 443.7"/>
<path class="ln" stroke-width="2.208" d="M403.1 437.0L403.1 440.9"/>
<path class="ln" stroke-width="2.208" d="M430.7 429.9L430.7 434.8"/>
<path class="ln" stroke-width="2.208" d="M436.2 432.6L437.3 435.9"/>
<path class="ln" stroke-width="2.208" d="M466.1 443.7L470.5 442.6L471.6 446.8"/>
<path d="M474.9 446.4L480.0 447.0L480.0 453.6L475.1 452.5Z" fill="#111" stroke="#111" stroke-width="0.5980000000000001" stroke-linejoin="round"/>
<path d="M474.9 458.0L480.0 458.0L480.0 464.1L475.1 463.6Z" fill="#111" stroke="#111" stroke-width="0.5980000000000001" stroke-linejoin="round"/>
<path class="ln" stroke-width="1.1960000000000002" d="M468.3 456.4L473.8 460.2L480.0 458.0"/>
<path class="ln" stroke-width="1.1960000000000002" d="M473.8 460.2L473.8 464.1"/>
<path class="ln" stroke-width="1.1960000000000002" d="M440.7 456.9L440.7 459.7"/>
<path class="ln" stroke-width="1.1960000000000002" d="M441.2 459.4L467.7 449.8"/>
</g>
<g id="02lbl">
<path class="ln" stroke-width="1.1960000000000002" d="M382.0 643.5L416.6 616.2"/>
<text class="lb" text-anchor="middle" transform="translate(374.6,653.4) scale(0.72,1)">2</text>
<path d="M457.6 650.1L467.4 649.8L466.7 653.0L463.0 654.8L458.2 653.3Z" fill="#111" stroke="#111" stroke-width="0.5980000000000001" stroke-linejoin="round"/>
<path class="ln" stroke-width="1.1960000000000002" d="M461.5 641.3L461.5 650.1"/>
<path class="ln" stroke-width="1.1960000000000002" d="M453.4 666.3L460.8 655.2"/>
<text class="lb" text-anchor="middle" transform="translate(448.3,682.1) scale(0.72,1)">14</text>
</g>
<g id="03">
<path class="ln" stroke-width="1.104" d="M380.1 277.9C380.7 276.9 381.8 273.7 383.4 272.0C385.0 270.3 388.8 268.4 389.9 267.7"/>
<path class="ln" stroke-width="1.104" d="M389.9 267.7L442.3 254.3L449.7 256.7L479.2 265.9L530.7 281.6L560.2 293.5"/>
<path class="ln" stroke-width="1.104" d="M560.2 293.5C560.6 294.1 563.3 295.9 562.4 297.2C561.5 298.5 556.0 300.7 554.7 301.4"/>
<path class="ln" stroke-width="1.104" d="M554.7 301.4L537.2 314.7L527.1 318.4L505.0 321.2"/>
<path class="ln" stroke-width="1.104" d="M380.1 277.9L418.4 277.0L425.8 277.9L457.1 287.1L493.9 300.0"/>
<path class="ln" stroke-width="1.104" d="M493.9 300.0C495.8 301.2 503.0 304.9 505.3 307.3C507.6 309.8 507.8 312.2 507.7 314.7C507.7 317.2 505.4 320.8 505.0 322.1"/>
<path class="ln" stroke-width="1.104" d="M505.0 322.1L493.9 346.0L496.1 347.1L507.2 322.4"/>
<path class="ln" stroke-width="1.104" d="M380.1 277.9L377.9 305.5L418.4 297.8L427.6 299.6L449.7 306.4L475.5 315.6L502.2 323.9"/>
<path class="ln" stroke-width="1.104" d="M418.4 277.0L419.9 298.1"/>
<path d="M385.3 305.1L392.6 304.0L392.6 306.4L385.6 307.3Z" fill="#111" stroke="#111" stroke-width="0.552" stroke-linejoin="round"/>
<path d="M415.6 298.5L423.0 297.4L423.0 300.0L416.0 300.7Z" fill="#111" stroke="#111" stroke-width="0.552" stroke-linejoin="round"/>
<path d="M445.5 305.9L452.5 307.3L451.9 309.2L445.1 307.7Z" fill="#111" stroke="#111" stroke-width="0.552" stroke-linejoin="round"/>
<path d="M474.6 315.1L481.0 316.9L480.5 318.8L474.0 316.9Z" fill="#111" stroke="#111" stroke-width="0.552" stroke-linejoin="round"/>
<path class="ln" stroke-width="1.104" d="M406.4 269.0L420.2 265.9L426.7 270.5L413.3 273.5Z"/>
<path class="ln" stroke-width="1.104" d="M409.2 269.2L419.9 267.2L424.3 270.5L414.0 272.3Z"/>
<path class="ln" stroke-width="1.104" d="M435.9 259.8L448.8 257.6L456.2 262.2L442.7 264.6Z"/>
<path class="ln" stroke-width="1.104" d="M438.3 260.2L448.2 258.7L453.4 262.0L443.5 263.5Z"/>
<path class="ln" stroke-width="1.104" d="M532.6 293.0L547.3 290.8L554.7 294.4L539.0 297.4Z"/>
<path class="ln" stroke-width="1.104" d="M535.3 293.3L547.0 291.9L551.9 294.4L540.0 296.3Z"/>
<path class="ln" stroke-width="1.104" d="M513.3 304.0L530.7 302.7L531.7 305.5L518.2 308.4Z"/>
<path class="ln" stroke-width="1.104" d="M516.0 304.4L529.3 303.7L529.8 305.5L519.0 307.3Z"/>
<g transform="translate(388.4,252.5) rotate(0) scale(0.88,0.95)"><path d="M-1.2 -8.5H-3.5V-0.8H-1.2M1.2 -8.5H3.5V-0.8H1.2M-1.2 0.8H-3.5V8.5H-1.2M1.2 0.8H3.5V8.5H1.2" fill="none" stroke="#111" stroke-width="0.95" stroke-dasharray="3.2 0.8"/><path d="M-1.7 -6.2h3.4v3.6h-3.4zM-1.7 2.6h3.4v3.6h-3.4z" fill="#111"/><path d="M0 -8.5V8.5" stroke="#111" stroke-width="1"/></g>
<g transform="translate(405.5,244.7) rotate(0) scale(0.88,0.95)"><path d="M-1.2 -8.5H-3.5V-0.8H-1.2M1.2 -8.5H3.5V-0.8H1.2M-1.2 0.8H-3.5V8.5H-1.2M1.2 0.8H3.5V8.5H1.2" fill="none" stroke="#111" stroke-width="0.95" stroke-dasharray="3.2 0.8"/><path d="M-1.7 -6.2h3.4v3.6h-3.4zM-1.7 2.6h3.4v3.6h-3.4z" fill="#111"/><path d="M0 -8.5V8.5" stroke="#111" stroke-width="1"/></g>
<g transform="translate(429.1,242.0) rotate(0) scale(0.88,0.95)"><path d="M-1.2 -8.5H-3.5V-0.8H-1.2M1.2 -8.5H3.5V-0.8H1.2M-1.2 0.8H-3.5V8.5H-1.2M1.2 0.8H3.5V8.5H1.2" fill="none" stroke="#111" stroke-width="0.95" stroke-dasharray="3.2 0.8"/><path d="M-1.7 -6.2h3.4v3.6h-3.4zM-1.7 2.6h3.4v3.6h-3.4z" fill="#111"/><path d="M0 -8.5V8.5" stroke="#111" stroke-width="1"/></g>
<g transform="translate(510.5,248.8) rotate(0) scale(0.88,0.95)"><path d="M-1.2 -8.5H-3.5V-0.8H-1.2M1.2 -8.5H3.5V-0.8H1.2M-1.2 0.8H-3.5V8.5H-1.2M1.2 0.8H3.5V8.5H1.2" fill="none" stroke="#111" stroke-width="0.95" stroke-dasharray="3.2 0.8"/><path d="M-1.7 -6.2h3.4v3.6h-3.4zM-1.7 2.6h3.4v3.6h-3.4z" fill="#111"/><path d="M0 -8.5V8.5" stroke="#111" stroke-width="1"/></g>
<g transform="translate(537.2,254.9) rotate(0) scale(0.88,0.95)"><path d="M-1.2 -8.5H-3.5V-0.8H-1.2M1.2 -8.5H3.5V-0.8H1.2M-1.2 0.8H-3.5V8.5H-1.2M1.2 0.8H3.5V8.5H1.2" fill="none" stroke="#111" stroke-width="0.95" stroke-dasharray="3.2 0.8"/><path d="M-1.7 -6.2h3.4v3.6h-3.4zM-1.7 2.6h3.4v3.6h-3.4z" fill="#111"/><path d="M0 -8.5V8.5" stroke="#111" stroke-width="1"/></g>
<g transform="translate(549.2,256.7) rotate(0) scale(0.88,0.95)"><path d="M-1.2 -8.5H-3.5V-0.8H-1.2M1.2 -8.5H3.5V-0.8H1.2M-1.2 0.8H-3.5V8.5H-1.2M1.2 0.8H3.5V8.5H1.2" fill="none" stroke="#111" stroke-width="0.95" stroke-dasharray="3.2 0.8"/><path d="M-1.7 -6.2h3.4v3.6h-3.4zM-1.7 2.6h3.4v3.6h-3.4z" fill="#111"/><path d="M0 -8.5V8.5" stroke="#111" stroke-width="1"/></g>
<path class="ln" stroke-width="1.104" d="M388.4 261.3L388.4 275.1"/>
<path class="ln" stroke-width="1.104" d="M405.5 253.6L405.5 264.6"/>
<path class="ln" stroke-width="1.104" d="M429.1 250.8L429.1 259.5"/>
<path class="ln" stroke-width="1.104" d="M510.5 257.6L510.5 316.5"/>
<path class="ln" stroke-width="1.104" d="M537.2 263.5L537.2 309.2"/>
<path class="ln" stroke-width="1.104" d="M549.2 265.3L549.2 300.0"/>
<ellipse cx="388.4" cy="275.5" rx="1.9" ry="1.3" fill="#111"/>
<ellipse cx="405.5" cy="264.6" rx="1.9" ry="1.3" fill="#111"/>
<ellipse cx="429.1" cy="259.5" rx="1.9" ry="1.3" fill="#111"/>
<ellipse cx="510.5" cy="316.9" rx="1.9" ry="1.3" fill="#111"/>
<ellipse cx="537.2" cy="309.5" rx="1.9" ry="1.3" fill="#111"/>
<ellipse cx="549.2" cy="300.0" rx="1.9" ry="1.3" fill="#111"/>
<ellipse cx="479.5" cy="265.9" rx="1.9" ry="1.3" fill="#111"/>
<ellipse cx="529.5" cy="283.4" rx="1.9" ry="1.3" fill="#111"/>
<path class="ln" stroke-width="1.104" d="M400.9 215.6L388.9 243.3"/>
<path class="ln" stroke-width="1.104" d="M400.9 215.6L405.5 236.4"/>
<path class="ln" stroke-width="1.104" d="M400.9 215.6L428.5 233.3"/>
<path class="ln" stroke-width="1.104" d="M540.9 228.5L511.4 240.1"/>
<path class="ln" stroke-width="1.104" d="M540.9 228.5L537.2 246.2"/>
<path class="ln" stroke-width="1.104" d="M540.9 228.5L549.2 248.0"/>
<path class="ln" stroke-width="1.104" d="M450.6 326.7L468.1 314.7"/>
<path class="ln" stroke-width="1.104" d="M475.1 243.8L478.8 251.2"/>
<path class="ln" stroke-width="1.104" d="M524.9 260.9L528.5 268.3"/>
<path transform="translate(479.5,253.0) scale(1.0)" d="M-2.2 -1.8h4.4v2.8h-0.9v2.6h-2.6v-2.6h-0.9z" fill="#111" stroke="#111" stroke-width="0.7" stroke-linejoin="round"/>
<path d="M479.5 256.6V265.3" stroke="#222" stroke-width="1.20" stroke-dasharray="6 0.7" fill="none"/>
<path transform="translate(529.5,269.6) scale(1.0)" d="M-2.2 -1.8h4.4v2.8h-0.9v2.6h-2.6v-2.6h-0.9z" fill="#111" stroke="#111" stroke-width="0.7" stroke-linejoin="round"/>
<path d="M529.5 273.2V283.0" stroke="#222" stroke-width="1.20" stroke-dasharray="6 0.7" fill="none"/>
<text class="lb" text-anchor="middle" transform="translate(400.0,215.1) scale(0.72,1)">15</text>
<text class="lb" text-anchor="middle" transform="translate(543.6,224.3) scale(0.72,1)">15</text>
<text class="lb" text-anchor="middle" transform="translate(471.4,244.5) scale(0.72,1)">18</text>
<text class="lb" text-anchor="middle" transform="translate(521.5,261.1) scale(0.72,1)">18</text>
<text class="lb" text-anchor="middle" transform="translate(443.3,336.6) scale(0.72,1)">3</text>
</g>
<g id="04">
<path class="ln" stroke-width="1.1960000000000002" d="M757.4 229.1L761.5 227.4L808.0 240.7L839.5 250.6L875.9 264.7L877.9 267.2L876.7 282.9L870.9 300.3L867.6 304.5L862.7 302.5L846.1 300.8L809.6 289.6L793.0 280.9L787.2 276.3L783.1 266.4L775.6 247.3L766.5 234.9L757.4 231.1Z"/>
<path class="ln" stroke-width="1.1960000000000002" d="M759.6 231.5L806.3 243.2L839.5 253.4L873.9 267.2L872.6 282.9L867.6 299.8"/>
<path class="ln" stroke-width="1.1960000000000002" d="M875.9 264.7L873.9 267.2"/>
<path class="ln" stroke-width="1.1960000000000002" d="M772.3 238.5L778.1 236.5L806.3 245.6L839.5 255.6L866.8 268.0L868.5 273.0L862.7 297.9L859.3 297.9L839.5 292.9L794.7 278.8L789.7 274.6L772.3 241.2Z"/>
<path class="ln" stroke-width="1.1960000000000002" d="M775.6 240.7L791.4 273.8L796.4 277.1L839.5 290.9L859.3 295.9"/>
<path class="ln" stroke-width="1.1960000000000002" d="M778.1 239.8L803.0 245.6"/>
<path class="ln" stroke-width="1.1960000000000002" d="M784.8 252.3L809.6 258.1"/>
<path class="ln" stroke-width="1.1960000000000002" d="M785.6 254.8L808.8 260.1"/>
<path class="ln" stroke-width="1.1960000000000002" d="M802.2 245.6L808.0 253.9L811.6 255.1"/>
<path class="ln" stroke-width="1.1960000000000002" d="M809.6 258.1L819.6 285.4"/>
<path class="ln" stroke-width="1.1960000000000002" d="M811.3 259.7L821.2 284.6"/>
<path class="ln" stroke-width="1.1960000000000002" d="M839.5 258.1L850.2 273.0L864.3 276.3"/>
<path class="ln" stroke-width="1.1960000000000002" d="M851.1 275.5L863.5 278.8"/>
<path class="ln" stroke-width="1.1960000000000002" d="M850.2 273.0L840.3 292.0"/>
<path class="ln" stroke-width="1.1960000000000002" d="M839.5 255.6L839.5 258.1L832.8 263.4"/>
<path class="ln" stroke-width="1.1960000000000002" d="M813.8 247.3L839.5 254.8L832.8 263.0L811.3 255.6Z"/>
<path class="ln" stroke-width="1.1960000000000002" d="M815.4 249.8L812.9 254.8"/>
<path class="ln" stroke-width="1.1960000000000002" d="M831.2 253.4L834.5 254.8"/>
<ellipse cx="829.5" cy="278.8" rx="9.0" ry="9.9" transform="rotate(-20.0 829.5 278.8)" fill="none" stroke="#111" stroke-width="1.1960000000000002"/>
<path class="ln" stroke-width="1.84" d="M811.3 255.6L832.8 263.0L839.5 257.2"/>
<path class="ln" stroke-width="1.84" d="M806.3 245.6L813.8 247.8"/>
<path d="M808.8 292.9L815.4 294.5L814.6 297.0L809.3 295.4Z" fill="#111" stroke="#111" stroke-width="0.5980000000000001" stroke-linejoin="round"/>
<path d="M816.2 294.9L822.9 296.5L822.0 299.2L816.6 297.5Z" fill="#111" stroke="#111" stroke-width="0.5980000000000001" stroke-linejoin="round"/>
<path d="M829.5 299.2L836.1 300.8L835.3 303.2L829.8 301.5Z" fill="#111" stroke="#111" stroke-width="0.5980000000000001" stroke-linejoin="round"/>
<path d="M837.0 301.5L843.6 303.2L842.8 305.8L837.5 304.1Z" fill="#111" stroke="#111" stroke-width="0.5980000000000001" stroke-linejoin="round"/>
<path class="ln" stroke-width="2.0240000000000005" d="M842.8 304.5L895.0 324.4"/>
<path class="ln" stroke-width="1.104" d="M858.5 307.5L855.2 313.6"/>
<path class="ln" stroke-width="1.104" d="M856.0 311.9L850.2 318.6"/>
<path class="ln" stroke-width="1.104" d="M884.2 321.9L879.2 326.0"/>
<path class="ln" stroke-width="1.104" d="M895.0 257.7L877.6 265.0"/>
<ellipse cx="894.6" cy="324.4" rx="0.7" ry="0.7" transform="rotate(0 894.6 324.4)" fill="none" stroke="#111" stroke-width="1.104"/>
<text class="lb" text-anchor="middle" transform="translate(901.6,264.3) scale(0.72,1)">4</text>
<text class="lb" text-anchor="middle" transform="translate(841.1,335.9) scale(0.72,1)">16</text>
<text class="lb" text-anchor="middle" transform="translate(877.1,340.2) scale(0.72,1)">17</text>
</g>
<g id="04b">
<path class="ln" stroke-width="2.0240000000000005" d="M765.8 232.8L770.6 240.0L778.9 256.7L786.1 274.7L789.7 278.3"/>
<path class="ln" stroke-width="2.0240000000000005" d="M793.3 275.9L819.6 286.6L862.7 299.2"/>
<path class="ln" stroke-width="2.0240000000000005" d="M757.4 229.8L762.2 227.7L822.0 246.5L874.7 265.7"/>
<path class="ln" stroke-width="1.6560000000000001" d="M771.8 237.6L778.9 236.4L812.5 245.9"/>
<path class="ln" stroke-width="1.6560000000000001" d="M838.8 256.7L862.7 268.1L866.3 272.3L860.3 298.6"/>
<path class="ln" stroke-width="1.6560000000000001" d="M784.9 252.5L808.9 258.5"/>
<path class="ln" stroke-width="1.6560000000000001" d="M850.8 273.5L863.9 277.7"/>
<path class="ln" stroke-width="2.3920000000000003" d="M812.5 247.1L813.7 253.1L831.6 261.5L838.8 256.7"/>
<path class="ln" stroke-width="2.3920000000000003" d="M809.5 292.6L814.9 294.4"/>
<path class="ln" stroke-width="2.3920000000000003" d="M816.6 295.6L822.6 297.4"/>
<path class="ln" stroke-width="2.3920000000000003" d="M829.8 299.8L835.2 301.2"/>
<path class="ln" stroke-width="2.3920000000000003" d="M837.0 302.0L843.0 303.6"/>
</g>
<g id="05">
<path class="ln" stroke-width="1.288" d="M877.0 133.5L884.8 126.6L888.9 125.7L895.4 128.0L900.0 127.0L901.8 129.8L912.9 133.9L917.9 141.8L916.6 145.0L905.5 140.4L899.1 140.8L892.6 139.5L877.0 134.1Z"/>
<path class="ln" stroke-width="1.288" d="M901.8 129.8L905.5 140.4"/>
<path class="ln" stroke-width="1.288" d="M912.9 133.9L914.7 140.4L916.6 145.0"/>
<ellipse cx="909.2" cy="136.7" rx="2.6" ry="2.0" transform="rotate(0 909.2 136.7)" fill="none" stroke="#111" stroke-width="1.288"/>
<ellipse cx="909.2" cy="136.7" rx="1.2" ry="0.9" transform="rotate(0 909.2 136.7)" fill="none" stroke="#111" stroke-width="1.288"/>
<path class="ln" stroke-width="1.288" d="M884.8 126.6L886.6 129.8L892.6 131.6L895.4 128.0"/>
<path class="ln" stroke-width="1.288" d="M892.6 131.6L893.5 139.5"/>
<path class="ln" stroke-width="2.208" d="M878.8 132.6L883.4 128.9"/>
<path class="ln" stroke-width="2.208" d="M881.1 134.1L885.7 130.4"/>
<path class="ln" stroke-width="2.208" d="M883.9 134.9L887.1 132.1"/>
<path class="ln" stroke-width="2.208" d="M888.0 128.4L890.3 131.2"/>
<path class="ln" stroke-width="2.208" d="M884.8 136.7L891.7 137.6"/>
<path class="ln" stroke-width="2.208" d="M892.6 129.8L897.2 128.9L900.5 130.7"/>
<path class="ln" stroke-width="2.208" d="M894.5 133.0L900.9 132.6"/>
<path class="ln" stroke-width="2.208" d="M893.5 136.2L901.4 136.7"/>
<path class="ln" stroke-width="2.208" d="M895.4 139.0L901.8 139.3"/>
<path class="ln" stroke-width="2.208" d="M896.8 131.2L897.2 137.6"/>
<path class="ln" stroke-width="1.104" d="M936.8 134.1L917.9 142.2"/>
<text class="lb" text-anchor="middle" transform="translate(943.3,139.3) scale(0.72,1)">5</text>
</g>
<g id="06">
<path class="ln" stroke-width="1.104" d="M783.4 174.9L792.6 169.1L794.7 168.8L833.1 181.8L833.6 186.4L828.5 188.3L823.9 188.1L806.9 186.6L795.4 182.8L788.0 179.5Z"/>
<path class="ln" stroke-width="1.104" d="M793.1 171.2L829.5 183.5"/>
<path class="ln" stroke-width="1.104" d="M784.8 175.8L792.6 171.7"/>
<path class="ln" stroke-width="1.104" d="M795.4 177.0L801.8 174.9L815.2 179.8L808.3 182.0L795.4 177.0"/>
<path class="ln" stroke-width="1.104" d="M796.8 177.4L801.8 175.8L812.9 180.0"/>
<path class="ln" stroke-width="1.104" d="M806.9 186.6L816.6 181.4L829.5 183.5"/>
<path class="ln" stroke-width="1.104" d="M788.0 179.5L795.4 177.2"/>
<ellipse cx="791.9" cy="183.5" rx="3.3" ry="1.3" transform="rotate(0 791.9 183.5)" fill="none" stroke="#111" stroke-width="1.104"/>
<path class="ln" stroke-width="1.104" d="M788.6 180.9L788.6 183.5"/>
<path class="ln" stroke-width="1.104" d="M795.2 181.8L795.2 183.5"/>
<ellipse cx="810.1" cy="189.4" rx="3.5" ry="1.5" transform="rotate(0 810.1 189.4)" fill="none" stroke="#111" stroke-width="1.104"/>
<path class="ln" stroke-width="1.104" d="M806.6 186.6L806.6 189.4"/>
<path class="ln" stroke-width="1.104" d="M813.6 186.9L813.6 189.4"/>
<ellipse cx="825.3" cy="188.1" rx="2.8" ry="0.9" transform="rotate(0 825.3 188.1)" fill="none" stroke="#111" stroke-width="1.104"/>
<ellipse cx="792.6" cy="172.6" rx="1.3" ry="0.9" transform="rotate(0 792.6 172.6)" fill="#111" stroke="#111" stroke-width="1.104"/>
<ellipse cx="811.0" cy="183.7" rx="1.7" ry="1.3" transform="rotate(0 811.0 183.7)" fill="#111" stroke="#111" stroke-width="1.104"/>
<ellipse cx="826.5" cy="184.6" rx="1.3" ry="0.9" transform="rotate(0 826.5 184.6)" fill="#111" stroke="#111" stroke-width="1.104"/>
<ellipse cx="784.2" cy="174.9" rx="0.7" ry="0.7" transform="rotate(0 784.2 174.9)" fill="#111" stroke="#111" stroke-width="1.104"/>
<path transform="translate(791.9,154.7) scale(0.7)" d="M-2.2 -1.8h4.4v2.8h-0.9v2.6h-2.6v-2.6h-0.9z" fill="#111" stroke="#111" stroke-width="0.7" stroke-linejoin="round"/>
<path d="M791.9 157.2V158.8" stroke="#222" stroke-width="0.84" stroke-dasharray="6 0.7" fill="none"/>
<path transform="translate(791.9,163.0) scale(0.7)" d="M-2.2 -1.8h4.4v2.8h-0.9v2.6h-2.6v-2.6h-0.9z" fill="#111" stroke="#111" stroke-width="0.7" stroke-linejoin="round"/>
<path d="M791.9 165.5V171.7" stroke="#222" stroke-width="0.84" stroke-dasharray="6 0.7" fill="none"/>
<path transform="translate(809.9,164.2) scale(0.7)" d="M-2.2 -1.8h4.4v2.8h-0.9v2.6h-2.6v-2.6h-0.9z" fill="#111" stroke="#111" stroke-width="0.7" stroke-linejoin="round"/>
<path d="M809.9 166.7V184.6" stroke="#222" stroke-width="0.84" stroke-dasharray="6 0.7" fill="none"/>
<path transform="translate(826.5,164.2) scale(0.7)" d="M-2.2 -1.8h4.4v2.8h-0.9v2.6h-2.6v-2.6h-0.9z" fill="#111" stroke="#111" stroke-width="0.7" stroke-linejoin="round"/>
<path d="M826.5 166.7V184.1" stroke="#222" stroke-width="0.84" stroke-dasharray="6 0.7" fill="none"/>
<path class="ln" stroke-width="1.104" d="M778.8 158.8L790.8 154.7"/>
<path class="ln" stroke-width="1.104" d="M778.8 158.8L790.8 162.5"/>
<path class="ln" stroke-width="1.104" d="M820.7 155.1L810.9 163.4"/>
<path class="ln" stroke-width="1.104" d="M820.7 155.1L826.2 163.0"/>
<path class="ln" stroke-width="1.104" d="M852.5 177.0L833.6 184.6"/>
<text class="lb" text-anchor="middle" transform="translate(772.8,165.1) scale(0.72,1)">18</text>
<text class="lb" text-anchor="middle" transform="translate(820.2,156.3) scale(0.72,1)">18</text>
<text class="lb" text-anchor="middle" transform="translate(858.9,182.6) scale(0.72,1)">6</text>
</g>
<g id="07">
<path class="ln" stroke-width="1.1960000000000002" d="M776.9 385.5L782.0 385.2L792.3 385.7L818.1 398.4L828.4 404.8L833.6 411.3L837.5 421.6L836.2 425.4L825.9 433.2L815.6 446.1L792.3 445.4L782.0 434.5L776.9 430.6L765.3 427.4L760.8 424.1L760.1 418.3L766.6 417.7L770.4 415.8L773.0 399.7L774.9 389.3Z"/>
<path class="ln" stroke-width="1.1960000000000002" d="M782.0 386.8L785.9 393.2L784.6 408.7L782.0 416.4L771.7 421.6"/>
<path class="ln" stroke-width="1.1960000000000002" d="M779.5 386.8L776.9 412.5L771.7 419.0"/>
<path class="ln" stroke-width="1.1960000000000002" d="M775.6 389.3L773.7 413.8"/>
<path class="ln" stroke-width="1.1960000000000002" d="M787.2 393.2L792.3 391.9L818.1 403.5L825.9 408.7"/>
<path class="ln" stroke-width="1.1960000000000002" d="M789.8 399.7L815.6 411.3L822.0 410.0"/>
<path class="ln" stroke-width="1.1960000000000002" d="M788.5 407.4L813.0 420.3L815.6 430.6"/>
<path class="ln" stroke-width="1.1960000000000002" d="M785.9 399.7L788.5 407.4L787.2 412.5L792.3 415.1L801.4 413.8L804.0 417.7L813.0 421.6"/>
<path class="ln" stroke-width="1.1960000000000002" d="M793.6 431.9L813.0 431.9L813.0 440.3L794.3 440.3Z"/>
<ellipse cx="804.0" cy="436.4" rx="0.5" ry="0.5" transform="rotate(0 804.0 436.4)" fill="none" stroke="#111" stroke-width="1.1960000000000002"/>
<ellipse cx="807.2" cy="436.4" rx="0.5" ry="0.5" transform="rotate(0 807.2 436.4)" fill="none" stroke="#111" stroke-width="1.1960000000000002"/>
<path class="ln" stroke-width="1.1960000000000002" d="M823.3 408.7L818.1 426.7L816.8 433.2"/>
<path class="ln" stroke-width="1.1960000000000002" d="M828.4 404.8L831.0 413.8L825.9 433.2"/>
<path class="ln" stroke-width="1.1960000000000002" d="M766.6 417.7L765.3 427.4"/>
<path class="ln" stroke-width="1.1960000000000002" d="M760.8 424.1L766.6 422.9L775.6 421.6"/>
<path class="ln" stroke-width="1.1960000000000002" d="M771.7 426.7L789.8 430.6L792.3 437.0L793.6 440.3"/>
<path class="ln" stroke-width="1.1960000000000002" d="M792.3 445.4L814.3 443.5L824.6 434.5"/>
<path class="ln" stroke-width="1.1960000000000002" d="M836.2 425.4L824.6 430.6L815.6 442.2"/>
<ellipse cx="825.9" cy="412.5" rx="2.8" ry="5.2" transform="rotate(20.0 825.9 412.5)" fill="none" stroke="#111" stroke-width="1.1960000000000002"/>
<ellipse cx="820.1" cy="426.7" rx="1.8" ry="2.8" transform="rotate(15.0 820.1 426.7)" fill="none" stroke="#111" stroke-width="1.1960000000000002"/>
<path class="ln" stroke-width="2.0240000000000005" d="M791.1 393.2L794.9 395.1"/>
<path class="ln" stroke-width="2.0240000000000005" d="M800.1 393.8L805.2 395.8"/>
<path class="ln" stroke-width="2.0240000000000005" d="M814.3 404.8L819.4 403.8"/>
<path class="ln" stroke-width="2.0240000000000005" d="M815.6 431.9L818.1 437.0L823.3 433.2"/>
<ellipse cx="793.0" cy="418.7" rx="2.1" ry="1.8" transform="rotate(0 793.0 418.7)" fill="#111" stroke="#111" stroke-width="1.1960000000000002"/>
<ellipse cx="763.3" cy="424.1" rx="2.1" ry="2.3" transform="rotate(0 763.3 424.1)" fill="#111" stroke="#111" stroke-width="1.1960000000000002"/>
<ellipse cx="813.0" cy="434.5" rx="1.3" ry="2.3" transform="rotate(0 813.0 434.5)" fill="#111" stroke="#111" stroke-width="1.1960000000000002"/>
<ellipse cx="732.4" cy="433.4" rx="1.8" ry="1.7" transform="rotate(0 732.4 433.4)" fill="#111" stroke="#111" stroke-width="1.1960000000000002"/>
<ellipse cx="747.9" cy="427.4" rx="2.3" ry="2.3" transform="rotate(0 747.9 427.4)" fill="#111" stroke="#111" stroke-width="1.1960000000000002"/>
<path class="ln" stroke-width="1.1960000000000002" d="M734.3 432.5L760.1 424.1"/>
<path class="ln" stroke-width="1.1960000000000002" d="M727.9 442.2L731.8 435.7"/>
<path class="ln" stroke-width="1.1960000000000002" d="M744.0 437.7L747.2 430.6"/>
<text class="lb" text-anchor="middle" transform="translate(724.7,455.5) scale(0.72,1)">13</text>
<text class="lb" text-anchor="middle" transform="translate(744.7,452.3) scale(0.72,1)">14</text>
<text class="lb" text-anchor="middle" transform="translate(842.6,396.2) scale(0.72,1)">7</text>
<path class="ln" stroke-width="1.1960000000000002" d="M836.8 391.3L819.4 397.7"/>
<g transform="translate(785.6,361.6) rotate(0) scale(0.88,0.95)"><path d="M-1.2 -8.5H-3.5V-0.8H-1.2M1.2 -8.5H3.5V-0.8H1.2M-1.2 0.8H-3.5V8.5H-1.2M1.2 0.8H3.5V8.5H1.2" fill="none" stroke="#111" stroke-width="0.95" stroke-dasharray="3.2 0.8"/><path d="M-1.7 -6.2h3.4v3.6h-3.4zM-1.7 2.6h3.4v3.6h-3.4z" fill="#111"/><path d="M0 -8.5V8.5" stroke="#111" stroke-width="1"/></g>
<path class="ln" stroke-width="1.1960000000000002" d="M785.6 370.0L785.6 384.5"/>
<path class="ln" stroke-width="1.1960000000000002" d="M780.5 347.0L784.0 353.0"/>
<text class="lb" text-anchor="middle" transform="translate(778.2,346.6) scale(0.72,1)">15</text>
</g>
<g id="07b">
<path class="ln" stroke-width="1.84" d="M782.0 385.5L792.3 386.0L818.1 398.6L828.4 405.1"/>
<path class="ln" stroke-width="1.84" d="M792.3 392.2L818.1 403.8L825.9 408.9"/>
<path class="ln" stroke-width="1.84" d="M787.2 393.5L785.9 399.9L788.7 407.6"/>
<path class="ln" stroke-width="1.84" d="M823.3 408.9L818.1 427.0"/>
<path class="ln" stroke-width="1.84" d="M815.6 430.8L818.1 437.0L824.6 431.9"/>
<path class="ln" stroke-width="1.1960000000000002" d="M793.6 394.5L816.8 405.5"/>
<path class="ln" stroke-width="1.1960000000000002" d="M791.1 401.6L814.9 413.2"/>
<path class="ln" stroke-width="1.1960000000000002" d="M792.3 415.4L794.9 421.6L805.2 424.1L813.0 421.8"/>
<path class="ln" stroke-width="1.1960000000000002" d="M776.9 385.7L782.0 387.0"/>
<path class="ln" stroke-width="1.1960000000000002" d="M831.0 413.8L834.9 421.6"/>
<ellipse cx="827.2" cy="411.3" rx="1.8" ry="3.9" transform="rotate(20.0 827.2 411.3)" fill="none" stroke="#111" stroke-width="1.1960000000000002"/>
<path class="ln" stroke-width="2.3920000000000003" d="M790.4 393.5L795.6 395.5"/>
<path class="ln" stroke-width="2.3920000000000003" d="M799.4 394.2L805.9 396.6"/>
<path class="ln" stroke-width="2.3920000000000003" d="M813.6 405.1L820.1 403.8"/>
<path class="ln" stroke-width="2.3920000000000003" d="M825.2 408.7L828.4 413.2"/>
<path class="ln" stroke-width="2.3920000000000003" d="M791.7 418.3L795.6 419.6"/>
</g>
<g id="08">
<path class="ln" stroke-width="1.1960000000000002" d="M577.5 350.1L579.7 344.2L587.1 341.3L596.7 331.7L601.8 330.2L607.7 330.9L628.4 335.4L653.4 341.3L679.9 347.1L685.1 349.4L693.2 363.4L700.5 379.6L703.5 391.3L702.8 401.7L700.5 404.6L694.7 403.1"/>
<path class="ln" stroke-width="1.1960000000000002" d="M694.7 403.1L674.0 391.6L668.1 390.6L662.2 394.3L656.3 398.7L653.4 398.0L629.8 382.5L623.9 379.6L621.0 373.7L606.3 358.9L601.8 354.5L593.0 350.1L585.6 351.6L579.0 353.3L577.5 350.1"/>
<path class="ln" stroke-width="1.1960000000000002" d="M607.7 333.1L679.9 349.7"/>
<path class="ln" stroke-width="1.1960000000000002" d="M612.1 336.1L668.1 350.1"/>
<path class="ln" stroke-width="1.1960000000000002" d="M609.2 342.7L613.6 339.8L666.7 350.8L671.1 349.4"/>
<path class="ln" stroke-width="1.1960000000000002" d="M621.0 343.0L665.2 353.3"/>
<path class="ln" stroke-width="1.1960000000000002" d="M681.4 351.6L694.7 388.4L697.6 394.3L696.1 401.7"/>
<path class="ln" stroke-width="1.1960000000000002" d="M685.1 349.4L682.9 351.6L678.4 350.8"/>
<path class="ln" stroke-width="1.1960000000000002" d="M609.2 342.7C609.4 344.9 609.0 352.3 610.7 356.0C612.4 359.7 616.3 362.9 619.5 364.8C622.7 366.8 627.1 368.0 629.8 367.8C632.5 367.5 633.5 364.3 635.7 363.4C637.9 362.4 641.9 362.1 643.1 361.9"/>
<path class="ln" stroke-width="1.1960000000000002" d="M643.1 361.9L677.0 372.2L690.2 376.6"/>
<path class="ln" stroke-width="1.1960000000000002" d="M616.6 341.3C617.3 343.5 619.0 351.1 621.0 354.5C622.9 357.9 625.4 360.4 628.4 361.9C631.3 363.4 636.9 363.4 638.7 363.6"/>
<path class="ln" stroke-width="1.1960000000000002" d="M631.3 380.3L637.2 372.2L643.1 374.4L662.2 384.0L659.3 388.4L656.3 394.3"/>
<path class="ln" stroke-width="1.1960000000000002" d="M643.1 374.4L641.6 382.5L659.3 388.4"/>
<path class="ln" stroke-width="1.1960000000000002" d="M629.8 382.5L653.4 394.3"/>
<path class="ln" stroke-width="1.1960000000000002" d="M677.0 372.2L691.7 379.6"/>
<path class="ln" stroke-width="1.1960000000000002" d="M668.1 376.6L691.7 385.5"/>
<path class="ln" stroke-width="1.1960000000000002" d="M596.7 331.7L582.7 345.7"/>
<path class="ln" stroke-width="1.1960000000000002" d="M601.8 333.1L585.6 349.4"/>
<path class="ln" stroke-width="1.1960000000000002" d="M604.8 334.6L605.5 342.7L591.5 349.4"/>
<path class="ln" stroke-width="1.1960000000000002" d="M609.2 342.7L609.2 348.6"/>
<path class="ln" stroke-width="1.1960000000000002" d="M671.1 349.4L677.0 361.9L679.9 369.2L677.0 372.2"/>
<path class="ln" stroke-width="1.1960000000000002" d="M674.0 351.6L681.4 364.8"/>
<path class="ln" stroke-width="1.84" d="M619.5 338.6L623.9 339.5"/>
<path class="ln" stroke-width="1.84" d="M638.7 339.5L643.1 340.5"/>
<path class="ln" stroke-width="1.84" d="M647.5 342.0L651.9 343.0"/>
<path class="ln" stroke-width="1.84" d="M663.7 349.4L668.1 350.8"/>
<path class="ln" stroke-width="1.84" d="M628.4 370.7L634.2 367.0"/>
<path class="ln" stroke-width="1.84" d="M664.4 375.9L671.1 373.7"/>
<path class="ln" stroke-width="1.84" d="M659.3 388.4L662.2 394.3"/>
<ellipse cx="598.1" cy="334.6" rx="0.9" ry="0.9" transform="rotate(0 598.1 334.6)" fill="#111" stroke="#111" stroke-width="1.1960000000000002"/>
<ellipse cx="582.7" cy="347.1" rx="0.9" ry="0.9" transform="rotate(0 582.7 347.1)" fill="#111" stroke="#111" stroke-width="1.1960000000000002"/>
<ellipse cx="646.8" cy="380.3" rx="0.7" ry="0.7" transform="rotate(0 646.8 380.3)" fill="none" stroke="#111" stroke-width="1.1960000000000002"/>
<ellipse cx="651.9" cy="384.0" rx="0.7" ry="0.7" transform="rotate(0 651.9 384.0)" fill="none" stroke="#111" stroke-width="1.1960000000000002"/>
<ellipse cx="641.6" cy="376.6" rx="1.2" ry="2.1" transform="rotate(0 641.6 376.6)" fill="#111" stroke="#111" stroke-width="1.1960000000000002"/>
<ellipse cx="661.5" cy="391.3" rx="1.5" ry="2.1" transform="rotate(0 661.5 391.3)" fill="#111" stroke="#111" stroke-width="1.1960000000000002"/>
<ellipse cx="699.1" cy="400.2" rx="1.8" ry="2.1" transform="rotate(0 699.1 400.2)" fill="#111" stroke="#111" stroke-width="1.1960000000000002"/>
<path class="ln" stroke-width="1.1960000000000002" d="M616.6 319.9L625.4 332.4"/>
<text class="lb" text-anchor="middle" transform="translate(615.8,320.3) scale(0.72,1)">8</text>
<text class="lb" text-anchor="middle" transform="translate(668.9,309.5) scale(0.72,1)">15</text>
<path class="ln" stroke-width="1.1960000000000002" d="M673.3 309.6L677.7 317.7"/>
<g transform="translate(679.9,325.3) rotate(0) scale(0.88,0.95)"><path d="M-1.2 -8.5H-3.5V-0.8H-1.2M1.2 -8.5H3.5V-0.8H1.2M-1.2 0.8H-3.5V8.5H-1.2M1.2 0.8H3.5V8.5H1.2" fill="none" stroke="#111" stroke-width="0.95" stroke-dasharray="3.2 0.8"/><path d="M-1.7 -6.2h3.4v3.6h-3.4zM-1.7 2.6h3.4v3.6h-3.4z" fill="#111"/><path d="M0 -8.5V8.5" stroke="#111" stroke-width="1"/></g>
<path class="ln" stroke-width="1.1960000000000002" d="M679.9 332.7L679.9 347.9"/>
</g>
<g id="08b">
<path class="ln" stroke-width="1.1960000000000002" d="M614.4 336.9L677.3 348.6"/>
<path class="ln" stroke-width="1.1960000000000002" d="M619.9 340.2L668.5 350.8L679.6 353.4L684.0 349.7"/>
<path class="ln" stroke-width="1.1960000000000002" d="M618.8 343.5L666.3 353.0"/>
<path class="ln" stroke-width="1.1960000000000002" d="M668.5 350.8L677.3 365.4L681.8 363.1L679.6 353.4"/>
<path class="ln" stroke-width="1.1960000000000002" d="M670.7 355.4L679.6 367.6"/>
<path class="ln" stroke-width="1.1960000000000002" d="M609.9 341.0C610.1 342.9 609.9 348.8 611.0 352.1C612.2 355.4 613.8 358.7 616.6 360.9C619.3 363.1 624.3 365.0 627.6 365.4C630.9 365.7 634.1 363.8 636.5 363.1C638.9 362.5 641.1 361.8 642.0 361.5"/>
<path class="ln" stroke-width="1.1960000000000002" d="M642.0 361.5L655.2 363.1L677.3 371.1L691.7 376.6"/>
<path class="ln" stroke-width="1.1960000000000002" d="M643.1 363.1L655.2 365.1L676.2 372.9L690.6 378.6"/>
<path class="ln" stroke-width="1.1960000000000002" d="M616.6 342.2C617.3 344.2 618.6 351.0 621.0 354.3C623.4 357.6 628.2 360.6 630.9 362.0C633.7 363.5 636.5 363.0 637.6 363.1"/>
<path class="ln" stroke-width="1.1960000000000002" d="M627.6 371.1L635.4 366.5L642.0 362.3"/>
<path class="ln" stroke-width="1.1960000000000002" d="M636.5 367.8L653.0 370.0L661.9 367.8L675.1 372.2L691.7 378.3"/>
<path class="ln" stroke-width="1.1960000000000002" d="M634.3 372.2L641.1 376.4L642.0 381.9L659.7 391.9L660.8 387.5L646.4 377.5L642.0 376.4"/>
<path class="ln" stroke-width="1.1960000000000002" d="M659.7 391.9L657.5 397.4L670.7 391.9L670.7 389.7L666.3 390.2"/>
<path class="ln" stroke-width="1.1960000000000002" d="M602.2 353.2L606.6 356.5L619.9 372.0L625.4 379.7L633.1 381.9"/>
<path class="ln" stroke-width="1.1960000000000002" d="M693.9 396.3L697.2 394.1L701.7 396.3L701.7 402.9L695.0 401.8L693.9 396.3"/>
<path class="ln" stroke-width="2.3920000000000003" d="M627.6 371.4L633.1 368.1"/>
<path class="ln" stroke-width="2.3920000000000003" d="M664.1 375.5L670.7 373.6"/>
<path class="ln" stroke-width="2.3920000000000003" d="M640.9 377.0L641.8 381.4"/>
<path class="ln" stroke-width="2.3920000000000003" d="M659.7 388.6L661.9 393.5"/>
<path class="ln" stroke-width="2.3920000000000003" d="M619.9 338.6L623.8 339.5"/>
<path class="ln" stroke-width="2.3920000000000003" d="M638.7 340.2L642.5 341.0"/>
<path class="ln" stroke-width="2.3920000000000003" d="M647.5 341.9L651.4 342.8"/>
<path class="ln" stroke-width="2.3920000000000003" d="M664.1 349.9L668.5 351.0"/>
<path class="ln" stroke-width="2.3920000000000003" d="M696.1 398.5L700.0 400.7"/>
</g>
<g id="09">
<path class="ln" stroke-width="1.1960000000000002" d="M610.6 575.0L617.7 564.8L620.8 562.8L639.0 553.7L643.1 550.6L659.3 542.5L663.3 539.5L672.4 536.5L680.5 545.6L680.5 549.6L673.5 552.7L641.0 571.9L635.0 576.0L610.6 580.0Z"/>
<path class="ln" stroke-width="1.1960000000000002" d="M618.8 570.9L637.0 570.9L675.5 549.6"/>
<path class="ln" stroke-width="1.1960000000000002" d="M610.6 575.4L635.0 573.3L678.5 548.2"/>
<path class="ln" stroke-width="1.1960000000000002" d="M617.7 569.9L620.8 566.9L669.4 541.5"/>
<path class="ln" stroke-width="1.1960000000000002" d="M610.6 580.0L600.5 595.2L590.4 617.5L583.3 623.6"/>
<path class="ln" stroke-width="1.1960000000000002" d="M610.6 580.0L608.6 585.1L590.4 621.6"/>
<path class="ln" stroke-width="1.1960000000000002" d="M635.0 576.0L610.6 617.5L607.6 625.6"/>
<path class="ln" stroke-width="1.1960000000000002" d="M638.0 577.0L613.7 620.5L610.6 626.6"/>
<path class="ln" stroke-width="1.1960000000000002" d="M596.5 616.5L610.6 615.5"/>
<ellipse cx="620.8" cy="564.4" rx="2.0" ry="2.4" transform="rotate(0 620.8 564.4)" fill="none" stroke="#111" stroke-width="1.1960000000000002"/>
<ellipse cx="642.1" cy="551.7" rx="2.0" ry="2.4" transform="rotate(0 642.1 551.7)" fill="none" stroke="#111" stroke-width="1.1960000000000002"/>
<ellipse cx="662.3" cy="540.5" rx="2.0" ry="2.4" transform="rotate(0 662.3 540.5)" fill="none" stroke="#111" stroke-width="1.1960000000000002"/>
<ellipse cx="600.5" cy="594.2" rx="1.6" ry="2.0" transform="rotate(0 600.5 594.2)" fill="#111" stroke="#111" stroke-width="1.1960000000000002"/>
<g transform="translate(615.7,514.6) rotate(90.0)"><path d="M-3.6 -9.4h7.2v8.3h-7.2zM-3.6 1.1h7.2v8.3h-7.2z" fill="#111"/><path d="M-2.3 -8.2v3.4M2.3 -7.8v5M0 -4v1.6M-2.3 2.4v3.4M2.3 2.8v5M0 6.4v1.6" stroke="#fff" stroke-width="1.1" fill="none"/></g>
<g transform="translate(721.5,542.1) rotate(90.0)"><path d="M-3.6 -9.4h7.2v8.3h-7.2zM-3.6 1.1h7.2v8.3h-7.2z" fill="#111"/><path d="M-2.3 -8.2v3.4M2.3 -7.8v5M0 -4v1.6M-2.3 2.4v3.4M2.3 2.8v5M0 6.4v1.6" stroke="#fff" stroke-width="1.1" fill="none"/></g>
<g transform="translate(721.5,553.1) rotate(90.0)"><path d="M-3.6 -9.4h7.2v8.3h-7.2zM-3.6 1.1h7.2v8.3h-7.2z" fill="#111"/><path d="M-2.3 -8.2v3.4M2.3 -7.8v5M0 -4v1.6M-2.3 2.4v3.4M2.3 2.8v5M0 6.4v1.6" stroke="#fff" stroke-width="1.1" fill="none"/></g>
<g transform="translate(720.5,565.2) rotate(90.0)"><path d="M-3.6 -9.4h7.2v8.3h-7.2zM-3.6 1.1h7.2v8.3h-7.2z" fill="#111"/><path d="M-2.3 -8.2v3.4M2.3 -7.8v5M0 -4v1.6M-2.3 2.4v3.4M2.3 2.8v5M0 6.4v1.6" stroke="#fff" stroke-width="1.1" fill="none"/></g>
<g transform="translate(693.3,593.8) rotate(90.0)"><path d="M-3.6 -9.4h7.2v8.3h-7.2zM-3.6 1.1h7.2v8.3h-7.2z" fill="#111"/><path d="M-2.3 -8.2v3.4M2.3 -7.8v5M0 -4v1.6M-2.3 2.4v3.4M2.3 2.8v5M0 6.4v1.6" stroke="#fff" stroke-width="1.1" fill="none"/></g>
<g transform="translate(677.5,625.6) rotate(90.0)"><path d="M-3.6 -9.4h7.2v8.3h-7.2zM-3.6 1.1h7.2v8.3h-7.2z" fill="#111"/><path d="M-2.3 -8.2v3.4M2.3 -7.8v5M0 -4v1.6M-2.3 2.4v3.4M2.3 2.8v5M0 6.4v1.6" stroke="#fff" stroke-width="1.1" fill="none"/></g>
<path class="ln" stroke-width="1.1960000000000002" stroke-dasharray="7 1.5 1.5 1.5" stroke-linecap="butt" d="M586.3 514.6L606.6 514.6"/>
<ellipse cx="585.9" cy="514.6" rx="1.2" ry="1.6" transform="rotate(0 585.9 514.6)" fill="#111" stroke="#111" stroke-width="1.1960000000000002"/>
<path class="ln" stroke-width="1.1960000000000002" stroke-dasharray="7 1.5 1.5 1.5" stroke-linecap="butt" d="M679.5 542.1L711.9 542.1"/>
<path class="ln" stroke-width="1.1960000000000002" stroke-dasharray="7 1.5 1.5 1.5" stroke-linecap="butt" d="M647.1 553.1L711.9 553.1"/>
<path class="ln" stroke-width="1.1960000000000002" stroke-dasharray="7 1.5 1.5 1.5" stroke-linecap="butt" d="M624.8 565.2L710.9 565.2"/>
<path class="ln" stroke-width="1.1960000000000002" stroke-dasharray="7 1.5 1.5 1.5" stroke-linecap="butt" d="M601.5 593.8L683.6 593.8"/>
<path class="ln" stroke-width="1.1960000000000002" stroke-dasharray="7 1.5 1.5 1.5" stroke-linecap="butt" d="M590.4 625.6L668.4 625.6"/>
<path class="ln" stroke-width="1.1960000000000002" d="M636.0 508.1L625.2 513.8"/>
<text class="lb" text-anchor="middle" transform="translate(643.1,513.4) scale(0.72,1)">15</text>
<path class="ln" stroke-width="1.1960000000000002" d="M749.4 553.1L731.2 542.1"/>
<path class="ln" stroke-width="1.1960000000000002" d="M749.4 553.1L731.2 553.1"/>
<path class="ln" stroke-width="1.1960000000000002" d="M749.4 553.1L730.2 565.2"/>
<text class="lb" text-anchor="middle" transform="translate(757.5,559.3) scale(0.72,1)">15</text>
<path class="ln" stroke-width="1.1960000000000002" d="M718.0 633.7L702.8 594.2"/>
<path class="ln" stroke-width="1.1960000000000002" d="M718.0 633.7L686.6 625.6"/>
<text class="lb" text-anchor="middle" transform="translate(729.2,646.1) scale(0.72,1)">15</text>
<path class="ln" stroke-width="1.1960000000000002" d="M583.3 623.4L584.3 631.5L587.4 631.5L585.3 656.9L580.3 668.0L579.2 673.1L584.3 685.2L595.5 683.2L603.6 675.1"/>
<path class="ln" stroke-width="1.1960000000000002" d="M587.4 631.5L608.6 624.4L611.7 626.5L603.6 675.1"/>
<path class="ln" stroke-width="1.1960000000000002" d="M609.6 624.8L601.5 673.1"/>
<path class="ln" stroke-width="1.1960000000000002" d="M586.3 632.5L584.3 684.2"/>
<path class="ln" stroke-width="1.1960000000000002" d="M583.3 623.4L590.4 616.3"/>
<path class="ln" stroke-width="1.1960000000000002" d="M590.4 623.4L610.6 615.3"/>
<ellipse cx="581.9" cy="671.0" rx="2.4" ry="2.6" transform="rotate(0 581.9 671.0)" fill="#111" stroke="#111" stroke-width="1.1960000000000002"/>
<ellipse cx="585.3" cy="626.5" rx="1.6" ry="2.0" transform="rotate(0 585.3 626.5)" fill="none" stroke="#111" stroke-width="1.1960000000000002"/>
<g transform="translate(671.4,671.0) rotate(90.0)"><path d="M-3.6 -9.4h7.2v8.3h-7.2zM-3.6 1.1h7.2v8.3h-7.2z" fill="#111"/><path d="M-2.3 -8.2v3.4M2.3 -7.8v5M0 -4v1.6M-2.3 2.4v3.4M2.3 2.8v5M0 6.4v1.6" stroke="#fff" stroke-width="1.1" fill="none"/></g>
<path class="ln" stroke-width="1.1960000000000002" stroke-dasharray="7 1.5 1.5 1.5" stroke-linecap="butt" d="M586.3 671.0L662.3 671.0"/>
<path class="ln" stroke-width="1.1960000000000002" d="M718.0 633.6L681.2 670.0"/>
<path class="ln" stroke-width="1.1960000000000002" d="M609.6 700.4L594.4 684.2"/>
<text class="lb" text-anchor="middle" transform="translate(618.3,713.8) scale(0.72,1)">9</text>
</g>
<g id="09b">
<path class="ln" stroke-width="1.84" d="M610.9 574.4L638.0 571.1L680.0 546.6"/>
<path class="ln" stroke-width="1.84" d="M610.1 578.8L637.4 575.5L680.0 549.7"/>
<path class="ln" stroke-width="1.84" d="M608.1 579.7L599.9 593.5L591.6 614.5"/>
<path class="ln" stroke-width="1.1960000000000002" d="M607.0 578.6L597.7 594.1L589.9 614.5"/>
<path class="ln" stroke-width="1.1960000000000002" d="M617.0 569.8L617.5 564.3L621.4 562.0L624.7 563.1L625.8 565.6"/>
<path class="ln" stroke-width="1.1960000000000002" d="M641.3 555.2L641.9 551.2L643.7 549.9L645.9 552.1L646.8 554.1"/>
<path class="ln" stroke-width="1.1960000000000002" d="M659.2 545.5L659.9 540.8L662.3 539.1L665.6 541.0L666.7 542.4"/>
</g>
<g id="10">
<path class="ln" stroke-width="2.208" d="M270.2 380.4C266.8 380.2 262.5 375.9 250.0 379.3C237.4 382.7 205.1 396.5 194.7 401.0C184.3 405.6 189.5 404.1 187.7 406.6C185.9 409.0 184.3 414.2 183.7 415.8"/>
<path class="ln" stroke-width="1.1960000000000002" d="M183.7 415.8L170.8 434.2L161.6 448.9L157.9 460.9"/>
<path class="ln" stroke-width="1.1960000000000002" d="M270.2 380.4L270.2 383.0L251.8 383.9L203.9 403.2"/>
<path class="ln" stroke-width="1.1960000000000002" d="M203.9 403.2C202.1 404.9 196.2 409.1 192.9 413.0C189.5 416.9 187.3 420.8 183.7 426.8C180.0 432.8 173.8 443.2 170.8 448.9C167.7 454.6 166.2 458.9 165.2 460.9"/>
<path class="ln" stroke-width="1.1960000000000002" d="M248.1 382.1L202.1 404.2"/>
<path class="ln" stroke-width="3.3120000000000003" d="M184.6 418.5L173.5 439.7L162.3 460.9"/>
<path class="ln" stroke-width="2.3920000000000003" d="M251.8 381.7L269.3 381.7"/>
<g transform="translate(169.3,378.9) rotate(-52.0) scale(0.88,0.95)"><path d="M-1.2 -8.5H-3.5V-0.8H-1.2M1.2 -8.5H3.5V-0.8H1.2M-1.2 0.8H-3.5V8.5H-1.2M1.2 0.8H3.5V8.5H1.2" fill="none" stroke="#111" stroke-width="0.95" stroke-dasharray="3.2 0.8"/><path d="M-1.7 -6.2h3.4v3.6h-3.4zM-1.7 2.6h3.4v3.6h-3.4z" fill="#111"/><path d="M0 -8.5V8.5" stroke="#111" stroke-width="1"/></g>
<g transform="translate(195.6,366.0) rotate(-52.0) scale(0.88,0.95)"><path d="M-1.2 -8.5H-3.5V-0.8H-1.2M1.2 -8.5H3.5V-0.8H1.2M-1.2 0.8H-3.5V8.5H-1.2M1.2 0.8H3.5V8.5H1.2" fill="none" stroke="#111" stroke-width="0.95" stroke-dasharray="3.2 0.8"/><path d="M-1.7 -6.2h3.4v3.6h-3.4zM-1.7 2.6h3.4v3.6h-3.4z" fill="#111"/><path d="M0 -8.5V8.5" stroke="#111" stroke-width="1"/></g>
<g transform="translate(222.3,355.0) rotate(-52.0) scale(0.88,0.95)"><path d="M-1.2 -8.5H-3.5V-0.8H-1.2M1.2 -8.5H3.5V-0.8H1.2M-1.2 0.8H-3.5V8.5H-1.2M1.2 0.8H3.5V8.5H1.2" fill="none" stroke="#111" stroke-width="0.95" stroke-dasharray="3.2 0.8"/><path d="M-1.7 -6.2h3.4v3.6h-3.4zM-1.7 2.6h3.4v3.6h-3.4z" fill="#111"/><path d="M0 -8.5V8.5" stroke="#111" stroke-width="1"/></g>
<path class="ln" stroke-width="1.1960000000000002" stroke-dasharray="7 1.5 1.5 1.5" stroke-linecap="butt" d="M175.4 383.5L193.8 399.2"/>
<path class="ln" stroke-width="1.1960000000000002" stroke-dasharray="7 1.5 1.5 1.5" stroke-linecap="butt" d="M202.1 371.6L222.3 389.1"/>
<path class="ln" stroke-width="1.1960000000000002" stroke-dasharray="7 1.5 1.5 1.5" stroke-linecap="butt" d="M228.8 360.5L247.2 378.9"/>
<path class="ln" stroke-width="1.1960000000000002" d="M175.9 343.9L165.2 372.5"/>
<path class="ln" stroke-width="1.1960000000000002" d="M175.9 343.9L191.0 361.4"/>
<path class="ln" stroke-width="1.1960000000000002" d="M175.9 343.9L216.8 350.4"/>
<text class="lb" text-anchor="middle" transform="translate(175.4,341.9) scale(0.72,1)">15</text>
<g transform="translate(135.8,419.4) rotate(-68.0) scale(0.88,0.95)"><path d="M-1.2 -8.5H-3.5V-0.8H-1.2M1.2 -8.5H3.5V-0.8H1.2M-1.2 0.8H-3.5V8.5H-1.2M1.2 0.8H3.5V8.5H1.2" fill="none" stroke="#111" stroke-width="0.95" stroke-dasharray="3.2 0.8"/><path d="M-1.7 -6.2h3.4v3.6h-3.4zM-1.7 2.6h3.4v3.6h-3.4z" fill="#111"/><path d="M0 -8.5V8.5" stroke="#111" stroke-width="1"/></g>
<g transform="translate(120.1,454.1) rotate(-68.0) scale(0.88,0.95)"><path d="M-1.2 -8.5H-3.5V-0.8H-1.2M1.2 -8.5H3.5V-0.8H1.2M-1.2 0.8H-3.5V8.5H-1.2M1.2 0.8H3.5V8.5H1.2" fill="none" stroke="#111" stroke-width="0.95" stroke-dasharray="3.2 0.8"/><path d="M-1.7 -6.2h3.4v3.6h-3.4zM-1.7 2.6h3.4v3.6h-3.4z" fill="#111"/><path d="M0 -8.5V8.5" stroke="#111" stroke-width="1"/></g>
<path class="ln" stroke-width="1.1960000000000002" stroke-dasharray="7 1.5 1.5 1.5" stroke-linecap="butt" d="M145.0 424.1L170.8 435.1"/>
<path class="ln" stroke-width="1.1960000000000002" d="M91.6 447.1L128.4 415.8"/>
<path class="ln" stroke-width="1.1960000000000002" d="M91.6 447.1L110.9 449.8"/>
<text class="lb" text-anchor="middle" transform="translate(82.4,452.4) scale(0.72,1)">15</text>
<path class="ln" stroke-width="1.1960000000000002" d="M163.4 440.3C162.5 443.0 159.1 451.3 157.9 456.8C156.6 462.4 157.0 466.7 156.0 473.4C155.1 480.2 153.4 490.9 152.3 497.3C151.3 503.8 150.7 508.4 149.6 512.1C148.5 515.8 146.5 518.2 145.9 519.4"/>
<path class="ln" stroke-width="1.1960000000000002" d="M145.9 519.4L146.5 532.7L150.9 530.9L152.0 520.4L148.7 515.8"/>
<path class="ln" stroke-width="3.3120000000000003" d="M171.7 440.3L161.9 460.5L158.2 473.4"/>
<path class="ln" stroke-width="1.1960000000000002" d="M159.7 473.4L156.0 497.3L153.3 513.9L152.3 530.5"/>
<ellipse cx="148.7" cy="521.3" rx="1.8" ry="2.6" transform="rotate(0 148.7 521.3)" fill="none" stroke="#111" stroke-width="1.1960000000000002"/>
<g transform="translate(106.3,501.0) rotate(-68.0) scale(0.88,0.95)"><path d="M-1.2 -8.5H-3.5V-0.8H-1.2M1.2 -8.5H3.5V-0.8H1.2M-1.2 0.8H-3.5V8.5H-1.2M1.2 0.8H3.5V8.5H1.2" fill="none" stroke="#111" stroke-width="0.95" stroke-dasharray="3.2 0.8"/><path d="M-1.7 -6.2h3.4v3.6h-3.4zM-1.7 2.6h3.4v3.6h-3.4z" fill="#111"/><path d="M0 -8.5V8.5" stroke="#111" stroke-width="1"/></g>
<path class="ln" stroke-width="1.1960000000000002" stroke-dasharray="7 1.5 1.5 1.5" stroke-linecap="butt" d="M128.4 457.8L157.0 470.6"/>
<path class="ln" stroke-width="1.1960000000000002" stroke-dasharray="7 1.5 1.5 1.5" stroke-linecap="butt" d="M114.6 503.8L145.9 516.7"/>
<path class="ln" stroke-width="1.1960000000000002" d="M91.2 448.5L97.1 494.6"/>
<path class="ln" stroke-width="1.1960000000000002" d="M122.5 540.6L145.9 529.6"/>
<text class="lb" text-anchor="middle" transform="translate(111.8,551.5) scale(0.72,1)">10</text>
</g>
<g id="11a">
<path class="ln" stroke-width="1.104" d="M336.4 129.2L338.3 123.1L346.6 114.6L349.9 112.6L362.0 108.8L395.2 95.7L414.0 89.4L419.7 90.1L450.0 95.7"/>
<path class="ln" stroke-width="1.104" d="M336.4 129.2L337.2 132.0L356.0 141.4L440.5 130.1L450.0 132.3"/>
<path class="ln" stroke-width="1.104" d="M337.7 130.3L356.5 139.1L438.8 128.1L450.0 129.4"/>
<path class="ln" stroke-width="1.104" d="M339.4 123.7L356.5 132.7L366.2 125.6L439.2 120.6L440.1 127.9"/>
<path class="ln" stroke-width="1.104" d="M439.2 120.6L447.1 121.5L450.0 119.5"/>
<path class="ln" stroke-width="1.104" d="M346.6 114.6L347.7 118.1L352.1 121.5L366.2 125.6"/>
<path class="ln" stroke-width="1.104" d="M349.9 112.6L366.5 109.9L385.2 116.5"/>
<path class="ln" stroke-width="1.104" d="M347.7 117.0L349.3 114.8L363.1 112.6"/>
<path class="ln" stroke-width="1.104" d="M363.1 112.6L384.1 118.4"/>
<path class="ln" stroke-width="1.104" d="M371.4 108.8L395.2 99.4"/>
<path class="ln" stroke-width="1.104" d="M376.4 111.3L400.7 102.9"/>
<path class="ln" stroke-width="1.104" d="M395.2 95.7L400.7 101.6L407.3 104.0L411.8 109.9L450.0 101.6"/>
<path class="ln" stroke-width="1.104" d="M400.7 101.6L400.7 105.4L391.9 108.8"/>
<path class="ln" stroke-width="1.104" d="M407.3 104.0L440.5 95.5"/>
<path class="ln" stroke-width="1.104" d="M411.8 109.9L411.8 107.1"/>
<path class="ln" stroke-width="1.104" d="M391.9 108.8L398.5 111.0L450.0 103.8"/>
<path class="ln" stroke-width="1.104" d="M372.0 122.6L450.0 114.0"/>
<ellipse cx="362.6" cy="110.6" rx="3.1" ry="1.3" transform="rotate(0 362.6 110.6)" fill="none" stroke="#111" stroke-width="1.104"/>
<ellipse cx="362.6" cy="111.5" rx="3.1" ry="1.3" transform="rotate(0 362.6 111.5)" fill="none" stroke="#111" stroke-width="1.104"/>
<ellipse cx="388.0" cy="118.4" rx="3.1" ry="1.3" transform="rotate(0 388.0 118.4)" fill="none" stroke="#111" stroke-width="1.104"/>
<ellipse cx="388.0" cy="117.7" rx="2.4" ry="1.0" transform="rotate(0 388.0 117.7)" fill="none" stroke="#111" stroke-width="1.104"/>
<ellipse cx="401.8" cy="96.3" rx="3.3" ry="1.3" transform="rotate(0 401.8 96.3)" fill="none" stroke="#111" stroke-width="1.104"/>
<ellipse cx="433.3" cy="96.0" rx="3.1" ry="1.3" transform="rotate(0 433.3 96.0)" fill="none" stroke="#111" stroke-width="1.104"/>
<ellipse cx="415.6" cy="98.5" rx="5.3" ry="2.0" transform="rotate(-8.0 415.6 98.5)" fill="none" stroke="#111" stroke-width="1.104"/>
<ellipse cx="404.0" cy="114.3" rx="5.3" ry="2.0" transform="rotate(-8.0 404.0 114.3)" fill="none" stroke="#111" stroke-width="1.104"/>
<ellipse cx="438.8" cy="102.1" rx="3.3" ry="2.0" transform="rotate(0 438.8 102.1)" fill="#111" stroke="#111" stroke-width="1.104"/>
<ellipse cx="438.8" cy="102.5" rx="5.5" ry="3.1" transform="rotate(0 438.8 102.5)" fill="none" stroke="#111" stroke-width="1.104"/>
<ellipse cx="356.0" cy="118.1" rx="7.2" ry="3.1" transform="rotate(-10.0 356.0 118.1)" fill="none" stroke="#111" stroke-width="1.104"/>
<ellipse cx="357.1" cy="117.6" rx="4.4" ry="2.0" transform="rotate(-10.0 357.1 117.6)" fill="none" stroke="#111" stroke-width="1.104"/>
<ellipse cx="360.4" cy="117.0" rx="1.5" ry="1.1" transform="rotate(0 360.4 117.0)" fill="#111" stroke="#111" stroke-width="1.104"/>
<path class="ln" stroke-width="1.104" d="M349.9 120.4L358.7 123.1L366.5 122.0"/>
<ellipse cx="415.6" cy="98.5" rx="3.1" ry="1.0" transform="rotate(-8.0 415.6 98.5)" fill="none" stroke="#111" stroke-width="1.104"/>
<ellipse cx="404.0" cy="114.3" rx="3.1" ry="1.0" transform="rotate(-8.0 404.0 114.3)" fill="none" stroke="#111" stroke-width="1.104"/>
</g>
<g id="11b">
<path class="ln" stroke-width="1.104" d="M450.1 95.7L475.4 100.5L506.3 108.8L548.3 120.9L560.0 126.1"/>
<path class="ln" stroke-width="1.104" d="M440.0 103.2L475.9 100.7"/>
<path class="ln" stroke-width="1.104" d="M440.0 114.6L473.1 109.9L505.2 107.7"/>
<path class="ln" stroke-width="1.104" d="M440.0 118.1L447.7 120.6L451.6 117.0L486.4 112.1L505.2 108.4"/>
<path class="ln" stroke-width="1.104" d="M453.3 118.1L539.4 148.9"/>
<path class="ln" stroke-width="1.104" d="M471.5 123.5L491.9 123.5L525.6 134.7L525.6 142.5"/>
<path class="ln" stroke-width="1.104" d="M494.1 124.8L522.9 135.3L522.9 141.6"/>
<path class="ln" stroke-width="1.104" d="M472.0 125.0L522.3 141.9"/>
<path class="ln" stroke-width="1.104" d="M440.0 122.0L441.1 128.6L449.9 130.3L468.7 135.8L537.2 161.2"/>
<path class="ln" stroke-width="1.104" d="M440.0 129.4L448.8 131.6L467.6 137.2L538.3 162.6"/>
<path class="ln" stroke-width="1.104" d="M539.4 148.9L537.8 161.2L539.4 162.6"/>
<path class="ln" stroke-width="1.104" d="M548.3 120.9L553.8 134.7L546.1 146.9L539.4 149.1"/>
<path class="ln" stroke-width="1.104" d="M548.3 120.9L550.5 129.2L546.1 146.9"/>
<path class="ln" stroke-width="1.104" d="M560.0 132.5L537.2 169.0"/>
<path class="ln" stroke-width="1.104" d="M560.0 138.0L541.7 169.0"/>
<path class="ln" stroke-width="1.104" d="M546.1 146.9L546.6 151.3L542.8 152.4"/>
<ellipse cx="478.7" cy="117.4" rx="5.5" ry="1.9" transform="rotate(5.0 478.7 117.4)" fill="none" stroke="#111" stroke-width="1.104"/>
<ellipse cx="478.7" cy="117.4" rx="3.3" ry="1.0" transform="rotate(5.0 478.7 117.4)" fill="none" stroke="#111" stroke-width="1.104"/>
<ellipse cx="516.2" cy="126.1" rx="5.5" ry="1.9" transform="rotate(5.0 516.2 126.1)" fill="none" stroke="#111" stroke-width="1.104"/>
<ellipse cx="516.2" cy="126.1" rx="3.3" ry="1.0" transform="rotate(5.0 516.2 126.1)" fill="none" stroke="#111" stroke-width="1.104"/>
<ellipse cx="531.2" cy="121.2" rx="3.5" ry="1.5" transform="rotate(0 531.2 121.2)" fill="none" stroke="#111" stroke-width="1.104"/>
<ellipse cx="542.8" cy="139.4" rx="5.2" ry="1.8" transform="rotate(5.0 542.8 139.4)" fill="none" stroke="#111" stroke-width="1.104"/>
<ellipse cx="542.8" cy="139.4" rx="3.1" ry="0.9" transform="rotate(5.0 542.8 139.4)" fill="none" stroke="#111" stroke-width="1.104"/>
</g>
<g id="11c">
<path class="ln" stroke-width="1.104" d="M545.1 119.4L563.2 128.4L567.7 128.4"/>
<path class="ln" stroke-width="1.104" d="M547.1 120.0L553.1 134.8L549.6 140.6"/>
<path class="ln" stroke-width="1.104" d="M547.1 120.0L550.3 125.2"/>
<path class="ln" stroke-width="1.104" d="M567.7 128.4L589.0 140.6L605.7 150.3L621.8 160.0L625.7 170.3L624.4 172.2L608.9 179.9L607.3 174.1"/>
<path class="ln" stroke-width="1.104" d="M621.8 160.0L608.3 168.3L609.6 179.9"/>
<path class="ln" stroke-width="1.104" d="M605.7 150.3L590.2 163.8L608.3 168.3"/>
<path class="ln" stroke-width="1.104" d="M563.2 128.4L545.8 150.3L542.5 152.2L538.7 160.0"/>
<path class="ln" stroke-width="1.104" d="M567.7 129.0L542.5 162.5L530.9 180.6L525.8 196.1"/>
<path class="ln" stroke-width="1.104" d="M538.7 160.0L541.3 152.2"/>
<path class="ln" stroke-width="1.104" d="M538.7 160.0L537.4 162.5"/>
<path class="ln" stroke-width="1.104" d="M525.8 196.1L527.1 199.3L556.7 206.4L579.3 194.8L577.3 185.1L572.2 181.9"/>
<path class="ln" stroke-width="1.104" d="M527.7 196.3L556.3 202.8L578.0 192.2"/>
<path class="ln" stroke-width="1.104" d="M556.7 197.6L556.7 206.4"/>
<path class="ln" stroke-width="1.104" d="M530.3 191.5L556.7 197.6L564.5 188.3L577.0 185.1"/>
<path class="ln" stroke-width="1.104" d="M530.9 180.6L537.4 178.7L545.8 180.6"/>
<path class="ln" stroke-width="1.104" d="M556.7 175.4L564.5 181.9L572.2 181.9"/>
<path class="ln" stroke-width="1.104" d="M577.3 185.1L607.0 172.9"/>
<path class="ln" stroke-width="1.104" d="M579.9 187.3L605.1 177.0"/>
<path class="ln" stroke-width="1.104" d="M578.9 190.3L590.2 186.0"/>
<path class="ln" stroke-width="1.104" d="M590.2 186.0L591.5 184.5L601.8 180.3L600.6 183.2L594.1 186.0L590.2 186.0"/>
<path class="ln" stroke-width="1.104" d="M572.2 181.9L574.8 180.6L603.1 169.0L607.0 172.9"/>
<path class="ln" stroke-width="1.104" d="M589.0 140.6L581.2 147.7L565.7 160.0L574.1 164.5L590.2 157.4"/>
<path class="ln" stroke-width="1.104" d="M567.0 161.9L584.4 153.8"/>
<path class="ln" stroke-width="1.104" d="M581.2 147.7L585.1 152.2L595.4 152.9"/>
<path class="ln" stroke-width="1.104" d="M574.1 164.5L578.6 169.6L582.5 167.7L589.0 164.5L590.2 169.0L578.6 174.1"/>
<path class="ln" stroke-width="1.104" d="M565.7 172.9L572.2 170.3L574.8 175.4L568.3 176.7L565.7 172.9"/>
<path class="ln" stroke-width="1.104" d="M572.2 170.3L589.0 164.5"/>
<path class="ln" stroke-width="1.104" d="M590.2 163.8L587.7 158.7"/>
<ellipse cx="543.8" cy="139.3" rx="5.2" ry="1.8" transform="rotate(5.0 543.8 139.3)" fill="none" stroke="#111" stroke-width="1.104"/>
<ellipse cx="543.8" cy="139.3" rx="2.8" ry="0.9" transform="rotate(5.0 543.8 139.3)" fill="none" stroke="#111" stroke-width="1.104"/>
<ellipse cx="514.8" cy="125.8" rx="5.2" ry="1.8" transform="rotate(5.0 514.8 125.8)" fill="none" stroke="#111" stroke-width="1.104"/>
<ellipse cx="530.3" cy="121.3" rx="3.2" ry="1.3" transform="rotate(0 530.3 121.3)" fill="none" stroke="#111" stroke-width="1.104"/>
<ellipse cx="558.7" cy="167.4" rx="5.2" ry="1.8" transform="rotate(-15.0 558.7 167.4)" fill="none" stroke="#111" stroke-width="1.104"/>
<ellipse cx="558.7" cy="167.4" rx="2.8" ry="0.9" transform="rotate(-15.0 558.7 167.4)" fill="none" stroke="#111" stroke-width="1.104"/>
<ellipse cx="547.1" cy="172.9" rx="3.2" ry="1.3" transform="rotate(0 547.1 172.9)" fill="none" stroke="#111" stroke-width="1.104"/>
<ellipse cx="547.1" cy="172.1" rx="3.2" ry="1.3" transform="rotate(0 547.1 172.1)" fill="none" stroke="#111" stroke-width="1.104"/>
<ellipse cx="569.6" cy="181.6" rx="3.2" ry="1.3" transform="rotate(0 569.6 181.6)" fill="none" stroke="#111" stroke-width="1.104"/>
<ellipse cx="569.6" cy="180.8" rx="3.2" ry="1.3" transform="rotate(0 569.6 180.8)" fill="none" stroke="#111" stroke-width="1.104"/>
<ellipse cx="605.5" cy="154.5" rx="3.2" ry="1.3" transform="rotate(0 605.5 154.5)" fill="none" stroke="#111" stroke-width="1.104"/>
<ellipse cx="605.5" cy="153.8" rx="3.2" ry="1.3" transform="rotate(0 605.5 153.8)" fill="none" stroke="#111" stroke-width="1.104"/>
<ellipse cx="605.1" cy="165.4" rx="3.2" ry="1.3" transform="rotate(0 605.1 165.4)" fill="none" stroke="#111" stroke-width="1.104"/>
<ellipse cx="597.3" cy="161.0" rx="5.2" ry="1.8" transform="rotate(-15.0 597.3 161.0)" fill="none" stroke="#111" stroke-width="1.104"/>
<ellipse cx="597.3" cy="161.0" rx="2.8" ry="0.9" transform="rotate(-15.0 597.3 161.0)" fill="none" stroke="#111" stroke-width="1.104"/>
<ellipse cx="554.1" cy="185.7" rx="8.4" ry="5.2" transform="rotate(-10.0 554.1 185.7)" fill="none" stroke="#111" stroke-width="1.104"/>
<ellipse cx="554.8" cy="185.1" rx="3.9" ry="1.8" transform="rotate(-15.0 554.8 185.1)" fill="none" stroke="#111" stroke-width="1.104"/>
<ellipse cx="589.0" cy="154.2" rx="2.8" ry="1.5" transform="rotate(20.0 589.0 154.2)" fill="#111" stroke="#111" stroke-width="1.104"/>
<ellipse cx="543.8" cy="183.8" rx="2.6" ry="1.8" transform="rotate(0 543.8 183.8)" fill="#111" stroke="#111" stroke-width="1.104"/>
<path class="ln" stroke-width="1.104" d="M536.1 179.9L543.8 181.9L551.6 175.4L556.7 180.6"/>
</g>
<g id="11lbl">
<path class="ln" stroke-width="1.1960000000000002" d="M312.1 140.6L341.1 134.9"/>
<text class="lb" text-anchor="middle" transform="translate(305.2,145.6) scale(0.72,1)">11</text>
</g>
<g id="12">
<path class="ln" stroke-width="1.1960000000000002" d="M662.8 229.0L666.1 226.5L726.6 254.4L726.6 258.4L723.3 260.5L662.8 232.3Z"/>
<path class="ln" stroke-width="1.1960000000000002" d="M662.8 229.4L723.3 256.7L726.6 254.4"/>
<path class="ln" stroke-width="1.1960000000000002" d="M723.3 256.7L723.3 260.5"/>
<path class="ln" stroke-width="1.1960000000000002" d="M700.9 229.9L688.5 236.2"/>
<text class="lb" text-anchor="middle" transform="translate(706.7,231.2) scale(0.72,1)">12</text>
</g>
<g id="13a">
<ellipse cx="667.3" cy="412.4" rx="1.8" ry="1.4" transform="rotate(0 667.3 412.4)" fill="#111" stroke="#111" stroke-width="1.1960000000000002"/>
<path d="M677.4 404.8L683.4 405.7L682.9 410.3L677.1 409.7Z" fill="#111" stroke="#111" stroke-width="0.5980000000000001" stroke-linejoin="round"/>
<path class="ln" stroke-width="1.1960000000000002" d="M669.6 411.7L694.5 403.4"/>
<path class="ln" stroke-width="1.1960000000000002" d="M661.3 420.9L665.9 414.5"/>
<path class="ln" stroke-width="1.1960000000000002" d="M677.9 419.1L680.5 411.2"/>
<text class="lb" text-anchor="middle" transform="translate(655.3,433.6) scale(0.72,1)">13</text>
<text class="lb" text-anchor="middle" transform="translate(680.2,431.8) scale(0.72,1)">14</text>
</g>
<g id="19">
<path transform="translate(362.5,82.5) scale(1.0)" d="M-2.2 -1.8h4.4v2.8h-0.9v2.6h-2.6v-2.6h-0.9z" fill="#111" stroke="#111" stroke-width="0.7" stroke-linejoin="round"/>
<path d="M362.5 86.1V109.5" stroke="#222" stroke-width="1.20" stroke-dasharray="6 0.7" fill="none"/>
<path transform="translate(388.5,82.5) scale(1.0)" d="M-2.2 -1.8h4.4v2.8h-0.9v2.6h-2.6v-2.6h-0.9z" fill="#111" stroke="#111" stroke-width="0.7" stroke-linejoin="round"/>
<path d="M388.5 86.1V117.5" stroke="#222" stroke-width="1.20" stroke-dasharray="6 0.7" fill="none"/>
<path transform="translate(402.3,70.6) scale(1.0)" d="M-2.2 -1.8h4.4v2.8h-0.9v2.6h-2.6v-2.6h-0.9z" fill="#111" stroke="#111" stroke-width="0.7" stroke-linejoin="round"/>
<path d="M402.3 74.2V95.0" stroke="#222" stroke-width="1.20" stroke-dasharray="6 0.7" fill="none"/>
<path transform="translate(433.1,70.6) scale(1.0)" d="M-2.2 -1.8h4.4v2.8h-0.9v2.6h-2.6v-2.6h-0.9z" fill="#111" stroke="#111" stroke-width="0.7" stroke-linejoin="round"/>
<path d="M433.1 74.2V95.0" stroke="#222" stroke-width="1.20" stroke-dasharray="6 0.7" fill="none"/>
<path transform="translate(530.7,96.0) scale(1.0)" d="M-2.2 -1.8h4.4v2.8h-0.9v2.6h-2.6v-2.6h-0.9z" fill="#111" stroke="#111" stroke-width="0.7" stroke-linejoin="round"/>
<path d="M530.7 99.6V119.3" stroke="#222" stroke-width="1.20" stroke-dasharray="6 0.7" fill="none"/>
<path transform="translate(546.4,99.9) scale(1.0)" d="M-2.2 -1.8h4.4v2.8h-0.9v2.6h-2.6v-2.6h-0.9z" fill="#111" stroke="#111" stroke-width="0.7" stroke-linejoin="round"/>
<path d="M546.4 103.5V172.0" stroke="#222" stroke-width="1.20" stroke-dasharray="6 0.7" fill="none"/>
<path transform="translate(569.8,117.7) scale(1.0)" d="M-2.2 -1.8h4.4v2.8h-0.9v2.6h-2.6v-2.6h-0.9z" fill="#111" stroke="#111" stroke-width="0.7" stroke-linejoin="round"/>
<path d="M569.8 121.3V180.7" stroke="#222" stroke-width="1.20" stroke-dasharray="6 0.7" fill="none"/>
<path transform="translate(605.2,119.4) scale(1.0)" d="M-2.2 -1.8h4.4v2.8h-0.9v2.6h-2.6v-2.6h-0.9z" fill="#111" stroke="#111" stroke-width="0.7" stroke-linejoin="round"/>
<path d="M605.2 123.0V126.0" stroke="#222" stroke-width="1.20" stroke-dasharray="6 0.7" fill="none"/>
<path transform="translate(605.2,129.9) scale(1.0)" d="M-2.2 -1.8h4.4v2.8h-0.9v2.6h-2.6v-2.6h-0.9z" fill="#111" stroke="#111" stroke-width="0.7" stroke-linejoin="round"/>
<path d="M605.2 133.5V165.2" stroke="#222" stroke-width="1.20" stroke-dasharray="6 0.7" fill="none"/>
<text class="lb" text-anchor="middle" transform="translate(368.5,70.9) scale(0.72,1)">19</text>
<text class="lb" text-anchor="middle" transform="translate(391.0,70.9) scale(0.72,1)">19</text>
<text class="lb" text-anchor="middle" transform="translate(413.7,60.7) scale(0.72,1)">19</text>
<text class="lb" text-anchor="middle" transform="translate(444.2,60.7) scale(0.72,1)">19</text>
<text class="lb" text-anchor="middle" transform="translate(539.8,84.0) scale(0.72,1)">19</text>
<text class="lb" text-anchor="middle" transform="translate(558.9,88.4) scale(0.72,1)">19</text>
<text class="lb" text-anchor="middle" transform="translate(580.9,105.3) scale(0.72,1)">19</text>
<text class="lb" text-anchor="middle" transform="translate(614.7,106.8) scale(0.72,1)">19</text>
<text class="lb" text-anchor="middle" transform="translate(625.7,124.4) scale(0.72,1)">19</text>
<path class="ln" stroke-width="1.0120000000000002" d="M368.7 73.7L363.7 80.6"/>
<path class="ln" stroke-width="1.0120000000000002" d="M393.0 75.0L389.3 80.6"/>
<path class="ln" stroke-width="1.0120000000000002" d="M410.6 62.5L403.7 69.4"/>
<path class="ln" stroke-width="1.0120000000000002" d="M441.8 63.0L435.0 69.4"/>
<path class="ln" stroke-width="1.0120000000000002" d="M537.0 86.0L532.0 94.0"/>
<path class="ln" stroke-width="1.0120000000000002" d="M555.0 90.0L548.0 98.0"/>
<path class="ln" stroke-width="1.0120000000000002" d="M577.0 108.0L571.0 116.0"/>
<path class="ln" stroke-width="1.0120000000000002" d="M611.0 110.0L606.5 117.5"/>
<path class="ln" stroke-width="1.0120000000000002" d="M620.0 121.0L607.0 128.5"/>
</g>
<g id="fwd">
<path class="ln" stroke-width="1.104" d="M53.3 713.8L72.4 688.8L76.8 692.1L57.7 716.8Z"/>
<path class="ln" stroke-width="1.104" d="M57.7 716.8L80.5 719.4L79.9 712.4"/>
<path class="ln" stroke-width="1.104" d="M76.8 692.1L77.7 697.4"/>
<path class="ln" stroke-width="1.104" d="M77.6 692.1L101.5 679.6L106.3 682.7"/>
<path class="ln" stroke-width="1.104" d="M77.7 697.4L106.3 682.9L107.8 698.0L79.8 712.7Z"/>
<text transform="translate(77.8,713.4) rotate(-27) skewX(-10) scale(0.95,1.45)" font-family='"Liberation Serif",serif' font-weight="bold" font-size="13" fill="#111" stroke="#111" stroke-width="0.3">FWD</text>
</g>
<g id="zlogo">
<g transform="translate(855,668) scale(0.07107)"><ellipse cx="478" cy="348" rx="355" ry="308" fill="none" stroke="#1a1a1a" stroke-width="45"/><path d="M95 195L250 232L460 275L460 330L385 320L220 282L140 242ZM180 340L280 360L385 375L385 435L300 420L230 390ZM270 485L385 492L385 548L320 530ZM385 300L460 300L460 572L385 548ZM861 195L706 232L496 275L496 330L571 320L736 282L816 242ZM776 340L676 360L571 375L571 435L656 420L726 390ZM686 485L571 492L571 548L636 530ZM571 300L496 300L496 572L571 548Z" fill="#1a1a1a" stroke="#fff" stroke-width="22" paint-order="stroke" stroke-linejoin="round"/></g>
<text transform="translate(926.5,688.3) scale(1.42,1) skewX(-14)" font-family='"Liberation Sans",sans-serif' font-weight="bold" font-size="11.3" fill="#1a1a1a" stroke="#1a1a1a" stroke-width="0.35">POWERSPORTS</text>
<text transform="translate(917.5,708.4) scale(1.42,1) skewX(-14)" font-family='"Liberation Sans",sans-serif' font-weight="bold" font-size="22.6" fill="#1a1a1a" stroke="#1a1a1a" stroke-width="1.1">EMPIRE</text>
</g>
</svg>
</body></html>
